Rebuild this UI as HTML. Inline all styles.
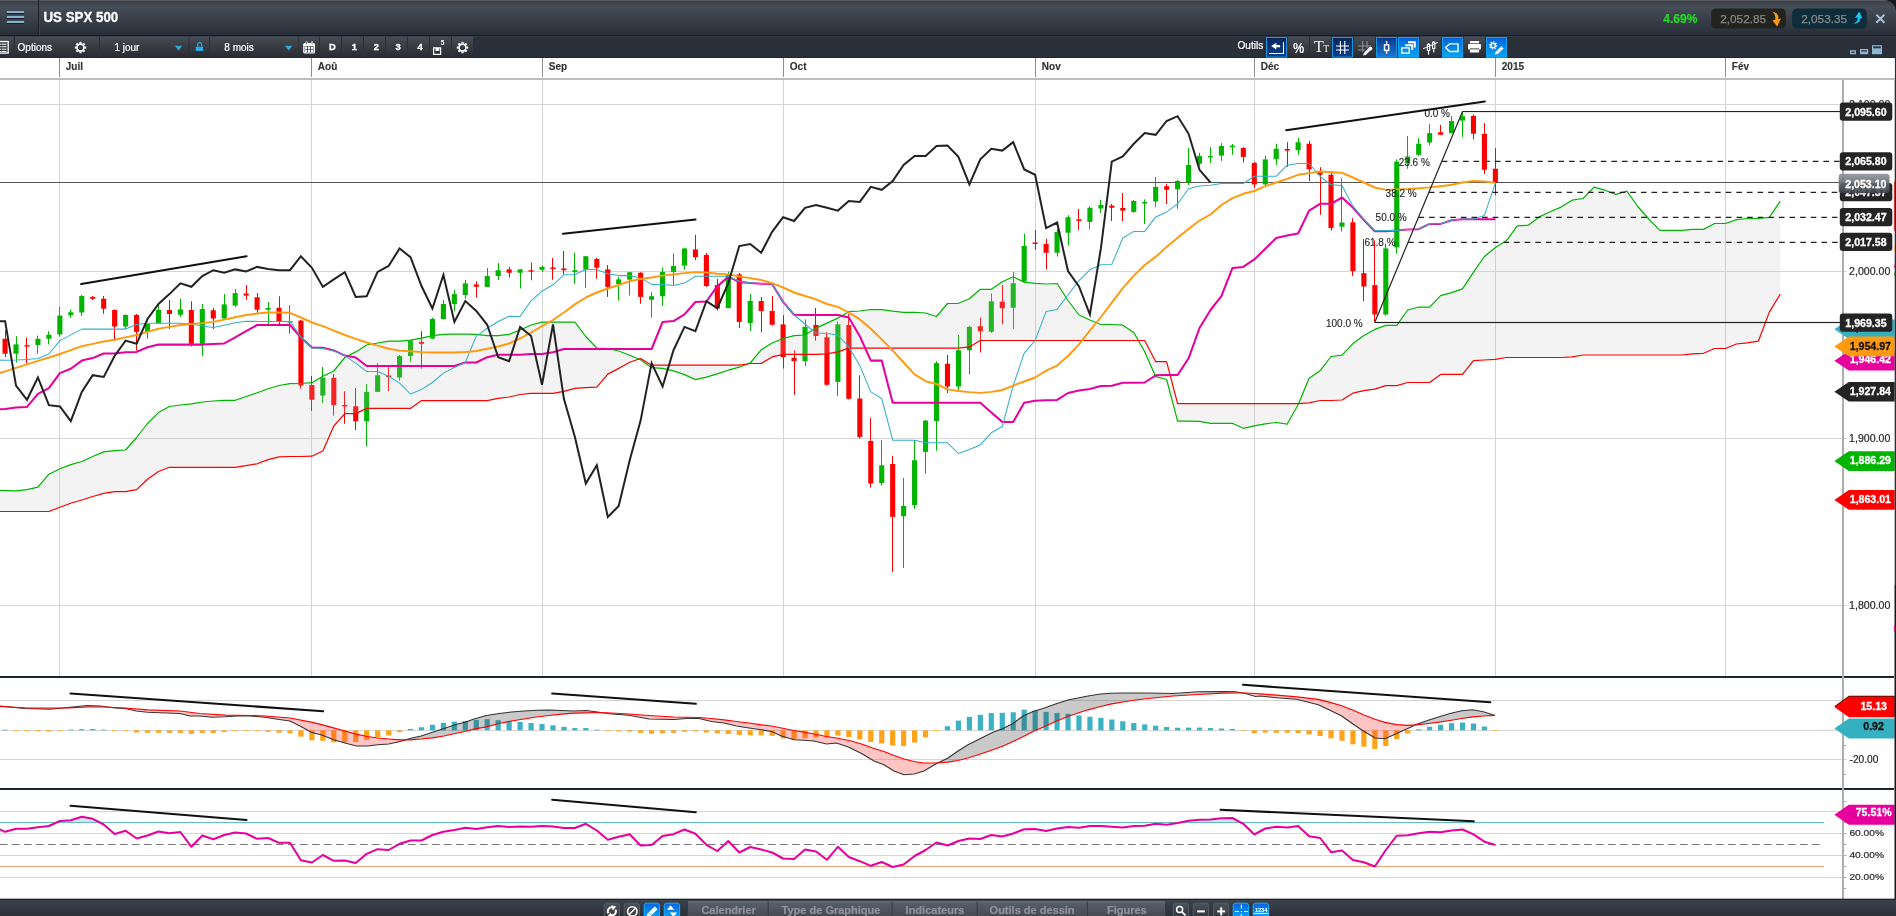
<!DOCTYPE html>
<html><head><meta charset="utf-8"><title>US SPX 500</title>
<style>html,body{margin:0;padding:0;background:#fff;}body{width:1896px;height:916px;overflow:hidden;position:relative;font-family:"Liberation Sans",sans-serif;}</style>
</head><body>
<svg width="1896" height="916" viewBox="0 0 1896 916" style="position:absolute;left:0;top:0;will-change:transform" font-family="Liberation Sans, sans-serif">
<defs>
<linearGradient id="gTitle" x1="0" y1="0" x2="0" y2="1"><stop offset="0" stop-color="#3a3e46"/><stop offset="0.2" stop-color="#464d56"/><stop offset="0.55" stop-color="#383f48"/><stop offset="0.93" stop-color="#2a303a"/><stop offset="1" stop-color="#2a303a"/></linearGradient>
<linearGradient id="gBtn" x1="0" y1="0" x2="0" y2="1"><stop offset="0" stop-color="#464a51"/><stop offset="1" stop-color="#282b31"/></linearGradient>
<linearGradient id="gBtnBlueD" x1="0" y1="0" x2="0" y2="1"><stop offset="0" stop-color="#082458"/><stop offset="1" stop-color="#0d3f8c"/></linearGradient>
<linearGradient id="gBtnBlueM" x1="0" y1="0" x2="0" y2="1"><stop offset="0" stop-color="#0a3488"/><stop offset="1" stop-color="#1a7ad8"/></linearGradient>
<linearGradient id="gBtnBlueL" x1="0" y1="0" x2="0" y2="1"><stop offset="0" stop-color="#0560d8"/><stop offset="1" stop-color="#08a8f6"/></linearGradient>
<linearGradient id="gBot" x1="0" y1="0" x2="0" y2="1"><stop offset="0" stop-color="#3d444e"/><stop offset="1" stop-color="#2a3039"/></linearGradient>
<linearGradient id="gTab" x1="0" y1="0" x2="0" y2="1"><stop offset="0" stop-color="#5a6069"/><stop offset="1" stop-color="#454b54"/></linearGradient>
<linearGradient id="gCur" x1="0" y1="0" x2="0" y2="1"><stop offset="0" stop-color="#8d9399"/><stop offset="1" stop-color="#3c4248"/></linearGradient>
<linearGradient id="gBG" x1="0" y1="0" x2="0" y2="1"><stop offset="0" stop-color="#4d525a"/><stop offset="1" stop-color="#2e3239"/></linearGradient>
<linearGradient id="gBB" x1="0" y1="0" x2="0" y2="1"><stop offset="0" stop-color="#0a64de"/><stop offset="1" stop-color="#08aaf6"/></linearGradient>
<clipPath id="clipMain"><rect x="0" y="79" width="1843" height="597"/></clipPath>
<clipPath id="clipMacd"><rect x="0" y="678" width="1843" height="111"/></clipPath>
<clipPath id="clipRsi"><rect x="0" y="790" width="1843" height="109"/></clipPath>
</defs>
<rect x="59.0" y="80" width="1" height="596" fill="#d4d4d4"/>
<rect x="311.0" y="80" width="1" height="596" fill="#d4d4d4"/>
<rect x="542.0" y="80" width="1" height="596" fill="#d4d4d4"/>
<rect x="783.0" y="80" width="1" height="596" fill="#d4d4d4"/>
<rect x="1035.0" y="80" width="1" height="596" fill="#d4d4d4"/>
<rect x="1254.0" y="80" width="1" height="596" fill="#d4d4d4"/>
<rect x="1495.0" y="80" width="1" height="596" fill="#d4d4d4"/>
<rect x="1725.0" y="80" width="1" height="596" fill="#d4d4d4"/>
<rect x="0" y="104" width="1846.6" height="1" fill="#d6d6d6"/>
<rect x="0" y="271" width="1846.6" height="1" fill="#d6d6d6"/>
<rect x="0" y="438" width="1846.6" height="1" fill="#d6d6d6"/>
<rect x="0" y="605" width="1846.6" height="1" fill="#d6d6d6"/>
<rect x="0" y="182" width="1843" height="1" fill="#555"/>
<g clip-path="url(#clipMain)">
<rect x="5" y="330.00" width="1" height="27.00" fill="#ff0000"/>
<rect x="2.51" y="338.75" width="5.1" height="15.00" fill="#ff0000"/>
<rect x="16" y="336.25" width="1" height="26.25" fill="#00b400"/>
<rect x="13.47" y="344.40" width="5.1" height="9.35" fill="#00b400"/>
<rect x="26" y="337.50" width="1" height="25.50" fill="#ff0000"/>
<rect x="24.43" y="345.20" width="5.1" height="1.40" fill="#ff0000"/>
<rect x="37" y="335.60" width="1" height="18.15" fill="#00b400"/>
<rect x="35.38" y="338.75" width="5.1" height="6.25" fill="#00b400"/>
<rect x="48" y="331.25" width="1" height="13.15" fill="#00b400"/>
<rect x="46.34" y="334.75" width="5.1" height="4.00" fill="#00b400"/>
<rect x="59" y="306.90" width="1" height="29.60" fill="#00b400"/>
<rect x="57.30" y="315.60" width="5.1" height="18.80" fill="#00b400"/>
<rect x="70" y="309.75" width="1" height="8.00" fill="#00b400"/>
<rect x="68.26" y="312.25" width="5.1" height="3.00" fill="#00b400"/>
<rect x="81" y="295.00" width="1" height="21.00" fill="#00b400"/>
<rect x="79.22" y="295.90" width="5.1" height="16.60" fill="#00b400"/>
<rect x="92" y="296.00" width="1" height="4.00" fill="#ff0000"/>
<rect x="90.18" y="296.90" width="5.1" height="1.85" fill="#ff0000"/>
<rect x="103" y="296.00" width="1" height="17.75" fill="#ff0000"/>
<rect x="101.13" y="298.75" width="5.1" height="10.00" fill="#ff0000"/>
<rect x="114" y="309.40" width="1" height="29.60" fill="#ff0000"/>
<rect x="112.09" y="310.00" width="5.1" height="16.50" fill="#ff0000"/>
<rect x="125" y="314.40" width="1" height="15.00" fill="#00b400"/>
<rect x="123.05" y="315.00" width="5.1" height="11.50" fill="#00b400"/>
<rect x="136" y="314.00" width="1" height="36.60" fill="#ff0000"/>
<rect x="134.01" y="315.00" width="5.1" height="16.90" fill="#ff0000"/>
<rect x="147" y="323.75" width="1" height="15.00" fill="#00b400"/>
<rect x="144.97" y="324.00" width="5.1" height="7.90" fill="#00b400"/>
<rect x="158" y="305.00" width="1" height="18.50" fill="#00b400"/>
<rect x="155.93" y="310.00" width="5.1" height="13.00" fill="#00b400"/>
<rect x="169" y="300.00" width="1" height="29.00" fill="#ff0000"/>
<rect x="166.88" y="310.00" width="5.1" height="4.00" fill="#ff0000"/>
<rect x="180" y="298.75" width="1" height="18.15" fill="#00b400"/>
<rect x="177.84" y="309.40" width="5.1" height="5.35" fill="#00b400"/>
<rect x="191" y="301.25" width="1" height="45.25" fill="#ff0000"/>
<rect x="188.80" y="310.00" width="5.1" height="33.75" fill="#ff0000"/>
<rect x="202" y="304.00" width="1" height="52.25" fill="#00b400"/>
<rect x="199.76" y="309.00" width="5.1" height="34.75" fill="#00b400"/>
<rect x="213" y="308.00" width="1" height="21.00" fill="#ff0000"/>
<rect x="210.72" y="310.25" width="5.1" height="8.25" fill="#ff0000"/>
<rect x="224" y="294.00" width="1" height="24.75" fill="#00b400"/>
<rect x="221.68" y="304.40" width="5.1" height="14.10" fill="#00b400"/>
<rect x="235" y="289.00" width="1" height="17.90" fill="#00b400"/>
<rect x="232.63" y="293.10" width="5.1" height="12.50" fill="#00b400"/>
<rect x="246" y="285.25" width="1" height="14.50" fill="#ff0000"/>
<rect x="243.59" y="293.50" width="5.1" height="2.10" fill="#ff0000"/>
<rect x="257" y="293.00" width="1" height="19.75" fill="#ff0000"/>
<rect x="254.55" y="297.25" width="5.1" height="12.50" fill="#ff0000"/>
<rect x="268" y="302.00" width="1" height="23.00" fill="#00b400"/>
<rect x="265.51" y="308.00" width="5.1" height="1.75" fill="#00b400"/>
<rect x="279" y="296.25" width="1" height="28.75" fill="#ff0000"/>
<rect x="276.47" y="307.75" width="5.1" height="13.50" fill="#ff0000"/>
<rect x="289" y="305.00" width="1" height="28.75" fill="#00b400"/>
<rect x="287.43" y="321.25" width="5.1" height="1.40" fill="#00b400"/>
<rect x="300" y="320.00" width="1" height="68.75" fill="#ff0000"/>
<rect x="298.38" y="320.60" width="5.1" height="65.00" fill="#ff0000"/>
<rect x="311" y="376.00" width="1" height="35.00" fill="#ff0000"/>
<rect x="309.34" y="385.00" width="5.1" height="14.75" fill="#ff0000"/>
<rect x="322" y="366.90" width="1" height="36.10" fill="#00b400"/>
<rect x="320.30" y="377.50" width="5.1" height="18.10" fill="#00b400"/>
<rect x="333" y="374.00" width="1" height="41.60" fill="#ff0000"/>
<rect x="331.26" y="377.90" width="5.1" height="27.35" fill="#ff0000"/>
<rect x="344" y="391.25" width="1" height="32.50" fill="#ff0000"/>
<rect x="342.22" y="405.00" width="5.1" height="1.50" fill="#ff0000"/>
<rect x="355" y="388.00" width="1" height="42.00" fill="#ff0000"/>
<rect x="353.18" y="406.25" width="5.1" height="15.00" fill="#ff0000"/>
<rect x="366" y="384.00" width="1" height="62.25" fill="#00b400"/>
<rect x="364.13" y="391.90" width="5.1" height="29.35" fill="#00b400"/>
<rect x="377" y="363.00" width="1" height="29.00" fill="#00b400"/>
<rect x="375.09" y="375.25" width="5.1" height="16.65" fill="#00b400"/>
<rect x="388" y="366.90" width="1" height="24.10" fill="#ff0000"/>
<rect x="386.05" y="375.40" width="5.1" height="1.60" fill="#ff0000"/>
<rect x="399" y="355.00" width="1" height="25.60" fill="#00b400"/>
<rect x="397.01" y="356.00" width="5.1" height="21.50" fill="#00b400"/>
<rect x="410" y="340.00" width="1" height="21.90" fill="#00b400"/>
<rect x="407.97" y="340.60" width="5.1" height="15.40" fill="#00b400"/>
<rect x="421" y="331.25" width="1" height="37.50" fill="#ff0000"/>
<rect x="418.93" y="341.90" width="5.1" height="1.85" fill="#ff0000"/>
<rect x="432" y="317.75" width="1" height="21.25" fill="#00b400"/>
<rect x="429.88" y="319.00" width="5.1" height="19.75" fill="#00b400"/>
<rect x="443" y="300.00" width="1" height="19.40" fill="#00b400"/>
<rect x="440.84" y="304.00" width="5.1" height="15.00" fill="#00b400"/>
<rect x="454" y="290.00" width="1" height="21.25" fill="#00b400"/>
<rect x="451.80" y="294.10" width="5.1" height="9.90" fill="#00b400"/>
<rect x="465" y="280.00" width="1" height="18.75" fill="#00b400"/>
<rect x="462.76" y="283.40" width="5.1" height="11.60" fill="#00b400"/>
<rect x="476" y="281.25" width="1" height="16.00" fill="#ff0000"/>
<rect x="473.72" y="284.40" width="5.1" height="2.40" fill="#ff0000"/>
<rect x="487" y="268.00" width="1" height="19.00" fill="#00b400"/>
<rect x="484.68" y="276.00" width="5.1" height="10.90" fill="#00b400"/>
<rect x="498" y="263.00" width="1" height="17.00" fill="#00b400"/>
<rect x="495.63" y="270.25" width="5.1" height="5.75" fill="#00b400"/>
<rect x="509" y="266.90" width="1" height="10.60" fill="#ff0000"/>
<rect x="506.59" y="269.40" width="5.1" height="3.35" fill="#ff0000"/>
<rect x="520" y="269.00" width="1" height="19.50" fill="#00b400"/>
<rect x="517.55" y="269.40" width="5.1" height="3.35" fill="#00b400"/>
<rect x="531" y="262.50" width="1" height="17.75" fill="#ff0000"/>
<rect x="528.51" y="270.25" width="5.1" height="1.40" fill="#ff0000"/>
<rect x="542" y="265.25" width="1" height="6.65" fill="#00b400"/>
<rect x="539.47" y="266.90" width="5.1" height="2.85" fill="#00b400"/>
<rect x="552" y="257.90" width="1" height="21.85" fill="#ff0000"/>
<rect x="550.42" y="267.50" width="5.1" height="1.50" fill="#ff0000"/>
<rect x="563" y="251.00" width="1" height="23.40" fill="#ff0000"/>
<rect x="561.38" y="268.40" width="5.1" height="1.85" fill="#ff0000"/>
<rect x="574" y="252.75" width="1" height="31.00" fill="#00b400"/>
<rect x="572.34" y="270.25" width="5.1" height="1.65" fill="#00b400"/>
<rect x="585" y="256.00" width="1" height="32.00" fill="#00b400"/>
<rect x="583.30" y="256.25" width="5.1" height="13.50" fill="#00b400"/>
<rect x="596" y="258.00" width="1" height="20.75" fill="#ff0000"/>
<rect x="594.26" y="259.00" width="5.1" height="8.75" fill="#ff0000"/>
<rect x="607" y="265.00" width="1" height="31.90" fill="#ff0000"/>
<rect x="605.22" y="269.40" width="5.1" height="17.50" fill="#ff0000"/>
<rect x="618" y="276.90" width="1" height="23.70" fill="#00b400"/>
<rect x="616.17" y="279.40" width="5.1" height="4.60" fill="#00b400"/>
<rect x="629" y="271.90" width="1" height="23.70" fill="#00b400"/>
<rect x="627.13" y="272.25" width="5.1" height="7.35" fill="#00b400"/>
<rect x="640" y="272.25" width="1" height="31.50" fill="#ff0000"/>
<rect x="638.09" y="272.75" width="5.1" height="24.15" fill="#ff0000"/>
<rect x="651" y="292.25" width="1" height="25.25" fill="#00b400"/>
<rect x="649.05" y="296.25" width="5.1" height="3.50" fill="#00b400"/>
<rect x="662" y="267.50" width="1" height="38.50" fill="#00b400"/>
<rect x="660.01" y="271.90" width="5.1" height="24.35" fill="#00b400"/>
<rect x="673" y="253.50" width="1" height="31.50" fill="#00b400"/>
<rect x="670.97" y="266.00" width="5.1" height="5.90" fill="#00b400"/>
<rect x="684" y="247.75" width="1" height="22.00" fill="#00b400"/>
<rect x="681.92" y="248.50" width="5.1" height="17.10" fill="#00b400"/>
<rect x="695" y="234.75" width="1" height="25.25" fill="#ff0000"/>
<rect x="692.88" y="249.40" width="5.1" height="7.85" fill="#ff0000"/>
<rect x="706" y="253.00" width="1" height="33.90" fill="#ff0000"/>
<rect x="703.84" y="255.00" width="5.1" height="31.00" fill="#ff0000"/>
<rect x="717" y="279.00" width="1" height="31.60" fill="#ff0000"/>
<rect x="714.80" y="285.00" width="5.1" height="23.50" fill="#ff0000"/>
<rect x="728" y="271.50" width="1" height="36.80" fill="#00b400"/>
<rect x="725.76" y="275.00" width="5.1" height="33.00" fill="#00b400"/>
<rect x="739" y="273.00" width="1" height="55.00" fill="#ff0000"/>
<rect x="736.72" y="274.40" width="5.1" height="47.50" fill="#ff0000"/>
<rect x="750" y="294.00" width="1" height="37.00" fill="#00b400"/>
<rect x="747.67" y="301.00" width="5.1" height="22.00" fill="#00b400"/>
<rect x="761" y="297.00" width="1" height="35.50" fill="#ff0000"/>
<rect x="758.63" y="301.00" width="5.1" height="10.00" fill="#ff0000"/>
<rect x="772" y="296.00" width="1" height="29.60" fill="#ff0000"/>
<rect x="769.59" y="311.00" width="5.1" height="13.75" fill="#ff0000"/>
<rect x="783" y="315.25" width="1" height="53.25" fill="#ff0000"/>
<rect x="780.55" y="324.40" width="5.1" height="32.85" fill="#ff0000"/>
<rect x="794" y="350.25" width="1" height="44.50" fill="#ff0000"/>
<rect x="791.51" y="357.75" width="5.1" height="3.50" fill="#ff0000"/>
<rect x="805" y="319.40" width="1" height="46.85" fill="#00b400"/>
<rect x="802.47" y="326.90" width="5.1" height="34.10" fill="#00b400"/>
<rect x="815" y="308.00" width="1" height="32.60" fill="#ff0000"/>
<rect x="813.42" y="325.00" width="5.1" height="11.00" fill="#ff0000"/>
<rect x="826" y="332.30" width="1" height="53.30" fill="#ff0000"/>
<rect x="824.38" y="337.30" width="5.1" height="47.45" fill="#ff0000"/>
<rect x="837" y="321.25" width="1" height="74.75" fill="#00b400"/>
<rect x="835.34" y="324.40" width="5.1" height="57.50" fill="#00b400"/>
<rect x="848" y="313.75" width="1" height="85.65" fill="#ff0000"/>
<rect x="846.30" y="325.00" width="5.1" height="73.75" fill="#ff0000"/>
<rect x="859" y="375.25" width="1" height="63.50" fill="#ff0000"/>
<rect x="857.26" y="398.50" width="5.1" height="38.40" fill="#ff0000"/>
<rect x="870" y="417.75" width="1" height="69.75" fill="#ff0000"/>
<rect x="868.22" y="441.00" width="5.1" height="42.50" fill="#ff0000"/>
<rect x="881" y="440.25" width="1" height="45.35" fill="#00b400"/>
<rect x="879.17" y="465.25" width="5.1" height="17.85" fill="#00b400"/>
<rect x="892" y="456.00" width="1" height="115.90" fill="#ff0000"/>
<rect x="890.13" y="464.00" width="5.1" height="52.90" fill="#ff0000"/>
<rect x="903" y="478.10" width="1" height="89.90" fill="#00b400"/>
<rect x="901.09" y="506.00" width="5.1" height="10.25" fill="#00b400"/>
<rect x="914" y="440.25" width="1" height="68.50" fill="#00b400"/>
<rect x="912.05" y="460.25" width="5.1" height="44.75" fill="#00b400"/>
<rect x="925" y="420.00" width="1" height="53.75" fill="#00b400"/>
<rect x="923.01" y="420.60" width="5.1" height="31.30" fill="#00b400"/>
<rect x="936" y="361.25" width="1" height="89.35" fill="#00b400"/>
<rect x="933.97" y="363.10" width="5.1" height="57.90" fill="#00b400"/>
<rect x="947" y="355.00" width="1" height="38.00" fill="#ff0000"/>
<rect x="944.92" y="363.75" width="5.1" height="22.75" fill="#ff0000"/>
<rect x="958" y="335.00" width="1" height="55.00" fill="#00b400"/>
<rect x="955.88" y="350.25" width="5.1" height="36.25" fill="#00b400"/>
<rect x="969" y="325.60" width="1" height="48.80" fill="#00b400"/>
<rect x="966.84" y="326.90" width="5.1" height="23.35" fill="#00b400"/>
<rect x="980" y="317.50" width="1" height="35.00" fill="#ff0000"/>
<rect x="977.80" y="326.25" width="5.1" height="5.00" fill="#ff0000"/>
<rect x="991" y="293.40" width="1" height="39.35" fill="#00b400"/>
<rect x="988.76" y="301.25" width="5.1" height="30.55" fill="#00b400"/>
<rect x="1002" y="285.00" width="1" height="39.30" fill="#ff0000"/>
<rect x="999.72" y="301.60" width="5.1" height="6.60" fill="#ff0000"/>
<rect x="1013" y="272.20" width="1" height="56.55" fill="#00b400"/>
<rect x="1010.67" y="283.20" width="5.1" height="24.60" fill="#00b400"/>
<rect x="1024" y="233.75" width="1" height="48.15" fill="#00b400"/>
<rect x="1021.63" y="246.00" width="5.1" height="35.50" fill="#00b400"/>
<rect x="1035" y="230.00" width="1" height="19.75" fill="#ff0000"/>
<rect x="1032.59" y="242.50" width="5.1" height="1.50" fill="#ff0000"/>
<rect x="1046" y="238.75" width="1" height="30.65" fill="#ff0000"/>
<rect x="1043.55" y="244.00" width="5.1" height="8.75" fill="#ff0000"/>
<rect x="1057" y="228.75" width="1" height="27.75" fill="#00b400"/>
<rect x="1054.51" y="231.90" width="5.1" height="20.85" fill="#00b400"/>
<rect x="1068" y="215.25" width="1" height="30.35" fill="#00b400"/>
<rect x="1065.47" y="217.25" width="5.1" height="15.50" fill="#00b400"/>
<rect x="1078" y="209.00" width="1" height="21.00" fill="#ff0000"/>
<rect x="1076.42" y="219.40" width="5.1" height="1.60" fill="#ff0000"/>
<rect x="1089" y="206.25" width="1" height="23.15" fill="#00b400"/>
<rect x="1087.38" y="207.75" width="5.1" height="14.15" fill="#00b400"/>
<rect x="1100" y="199.75" width="1" height="13.00" fill="#00b400"/>
<rect x="1098.34" y="205.00" width="5.1" height="3.50" fill="#00b400"/>
<rect x="1111" y="204.00" width="1" height="17.00" fill="#ff0000"/>
<rect x="1109.30" y="205.60" width="5.1" height="2.15" fill="#ff0000"/>
<rect x="1122" y="193.00" width="1" height="28.00" fill="#ff0000"/>
<rect x="1120.26" y="208.00" width="5.1" height="2.60" fill="#ff0000"/>
<rect x="1133" y="200.00" width="1" height="12.75" fill="#00b400"/>
<rect x="1131.21" y="201.00" width="5.1" height="10.90" fill="#00b400"/>
<rect x="1144" y="199.40" width="1" height="24.60" fill="#00b400"/>
<rect x="1142.17" y="201.90" width="5.1" height="1.60" fill="#00b400"/>
<rect x="1155" y="176.90" width="1" height="30.35" fill="#00b400"/>
<rect x="1153.13" y="186.90" width="5.1" height="14.60" fill="#00b400"/>
<rect x="1166" y="183.75" width="1" height="20.25" fill="#ff0000"/>
<rect x="1164.09" y="186.25" width="5.1" height="3.50" fill="#ff0000"/>
<rect x="1177" y="180.00" width="1" height="28.75" fill="#00b400"/>
<rect x="1175.05" y="181.00" width="5.1" height="8.40" fill="#00b400"/>
<rect x="1188" y="148.00" width="1" height="37.00" fill="#00b400"/>
<rect x="1186.01" y="165.00" width="5.1" height="17.25" fill="#00b400"/>
<rect x="1199" y="152.75" width="1" height="13.50" fill="#00b400"/>
<rect x="1196.96" y="156.00" width="5.1" height="7.75" fill="#00b400"/>
<rect x="1210" y="147.25" width="1" height="15.75" fill="#00b400"/>
<rect x="1207.92" y="156.00" width="5.1" height="1.40" fill="#00b400"/>
<rect x="1221" y="143.00" width="1" height="18.00" fill="#00b400"/>
<rect x="1218.88" y="146.00" width="5.1" height="9.60" fill="#00b400"/>
<rect x="1232" y="144.00" width="1" height="10.75" fill="#00b400"/>
<rect x="1229.84" y="145.60" width="5.1" height="1.65" fill="#00b400"/>
<rect x="1243" y="147.00" width="1" height="15.50" fill="#ff0000"/>
<rect x="1240.80" y="148.00" width="5.1" height="8.90" fill="#ff0000"/>
<rect x="1254" y="161.90" width="1" height="26.10" fill="#ff0000"/>
<rect x="1251.76" y="163.00" width="5.1" height="21.40" fill="#ff0000"/>
<rect x="1265" y="155.60" width="1" height="29.40" fill="#00b400"/>
<rect x="1262.71" y="159.40" width="5.1" height="25.00" fill="#00b400"/>
<rect x="1276" y="143.75" width="1" height="21.25" fill="#00b400"/>
<rect x="1273.67" y="148.75" width="5.1" height="10.25" fill="#00b400"/>
<rect x="1287" y="142.25" width="1" height="24.65" fill="#ff0000"/>
<rect x="1284.63" y="149.00" width="5.1" height="1.60" fill="#ff0000"/>
<rect x="1298" y="138.00" width="1" height="16.75" fill="#00b400"/>
<rect x="1295.59" y="142.25" width="5.1" height="8.00" fill="#00b400"/>
<rect x="1309" y="141.00" width="1" height="40.00" fill="#ff0000"/>
<rect x="1306.55" y="143.75" width="5.1" height="25.65" fill="#ff0000"/>
<rect x="1320" y="167.25" width="1" height="47.50" fill="#ff0000"/>
<rect x="1317.51" y="171.25" width="5.1" height="3.50" fill="#ff0000"/>
<rect x="1331" y="171.25" width="1" height="59.35" fill="#ff0000"/>
<rect x="1328.46" y="174.75" width="5.1" height="53.35" fill="#ff0000"/>
<rect x="1341" y="178.30" width="1" height="53.20" fill="#00b400"/>
<rect x="1339.42" y="222.50" width="5.1" height="4.20" fill="#00b400"/>
<rect x="1352" y="218.20" width="1" height="57.80" fill="#ff0000"/>
<rect x="1350.38" y="222.30" width="5.1" height="48.70" fill="#ff0000"/>
<rect x="1363" y="238.90" width="1" height="62.40" fill="#ff0000"/>
<rect x="1361.34" y="273.20" width="5.1" height="13.30" fill="#ff0000"/>
<rect x="1374" y="240.50" width="1" height="81.60" fill="#ff0000"/>
<rect x="1372.30" y="285.10" width="5.1" height="29.40" fill="#ff0000"/>
<rect x="1385" y="243.70" width="1" height="71.90" fill="#00b400"/>
<rect x="1383.26" y="248.40" width="5.1" height="66.10" fill="#00b400"/>
<rect x="1396" y="159.40" width="1" height="94.10" fill="#00b400"/>
<rect x="1394.21" y="161.60" width="5.1" height="85.80" fill="#00b400"/>
<rect x="1407" y="136.00" width="1" height="32.75" fill="#00b400"/>
<rect x="1405.17" y="156.50" width="5.1" height="6.50" fill="#00b400"/>
<rect x="1418" y="138.10" width="1" height="17.90" fill="#00b400"/>
<rect x="1416.13" y="143.75" width="5.1" height="11.00" fill="#00b400"/>
<rect x="1429" y="124.00" width="1" height="21.25" fill="#00b400"/>
<rect x="1427.09" y="133.10" width="5.1" height="9.40" fill="#00b400"/>
<rect x="1440" y="125.00" width="1" height="10.00" fill="#ff0000"/>
<rect x="1438.05" y="132.25" width="5.1" height="2.50" fill="#ff0000"/>
<rect x="1451" y="116.25" width="1" height="17.25" fill="#00b400"/>
<rect x="1449.01" y="121.00" width="5.1" height="12.10" fill="#00b400"/>
<rect x="1462" y="111.25" width="1" height="25.65" fill="#00b400"/>
<rect x="1459.96" y="116.25" width="5.1" height="4.35" fill="#00b400"/>
<rect x="1473" y="114.40" width="1" height="25.00" fill="#ff0000"/>
<rect x="1470.92" y="116.00" width="5.1" height="17.75" fill="#ff0000"/>
<rect x="1484" y="123.10" width="1" height="50.90" fill="#ff0000"/>
<rect x="1481.88" y="134.00" width="5.1" height="35.75" fill="#ff0000"/>
<rect x="1495" y="148.10" width="1" height="46.90" fill="#ff0000"/>
<rect x="1492.84" y="168.75" width="5.1" height="13.75" fill="#ff0000"/>
<polygon points="-5.9,490.2 5.1,490.6 16.0,490.8 27.0,489.6 37.9,487.1 48.9,474.2 59.9,468.8 70.8,464.6 81.8,461.5 92.7,456.5 103.7,451.9 114.6,450.6 125.6,450.0 136.6,437.5 147.5,423.5 158.5,412.6 169.4,406.5 180.4,405.0 191.4,403.9 202.3,402.0 213.3,401.0 224.2,400.3 235.2,400.3 246.1,396.5 257.1,392.7 268.1,388.8 279.0,385.5 290.0,383.6 300.9,383.5 311.9,382.7 322.9,376.3 333.8,371.0 344.8,357.5 355.7,351.9 366.7,345.0 377.6,343.0 388.6,341.2 399.6,341.2 410.5,340.2 421.5,338.1 432.4,335.6 443.4,334.4 454.4,334.2 465.3,334.2 476.3,334.4 487.2,335.6 498.2,335.6 509.1,334.4 520.1,330.0 531.1,325.0 542.0,322.2 553.0,322.2 563.9,322.2 574.9,322.2 585.8,336.5 596.8,348.0 607.8,348.5 618.7,351.0 629.7,355.2 640.6,359.7 651.6,367.7 662.6,368.4 673.5,370.9 684.5,374.6 695.4,379.6 706.4,377.1 717.3,373.9 728.3,370.2 739.3,367.2 750.2,363.0 761.2,349.8 772.1,343.0 783.1,338.5 794.1,335.6 805.0,335.0 816.0,328.1 826.9,323.1 837.9,318.1 848.8,311.7 859.8,311.0 870.8,309.5 881.7,309.6 892.7,311.2 903.6,312.3 914.6,312.4 925.6,313.0 936.5,316.5 947.5,303.5 958.4,303.3 969.4,298.8 980.3,289.3 991.3,289.3 1002.3,281.7 1013.2,276.7 1024.2,282.1 1035.1,283.3 1046.1,284.0 1057.1,283.5 1068.0,300.5 1079.0,315.0 1089.9,320.0 1100.9,324.5 1111.8,324.5 1122.8,325.2 1133.8,332.5 1144.7,351.7 1155.7,376.7 1166.6,379.5 1177.6,421.2 1188.6,421.2 1199.5,421.3 1210.5,423.3 1221.4,423.3 1232.4,423.3 1243.3,428.3 1254.3,425.8 1265.3,423.8 1276.2,422.5 1287.2,424.2 1298.1,404.7 1309.1,378.2 1320.1,370.7 1331.0,356.5 1342.0,355.2 1352.9,343.6 1363.9,335.6 1374.8,329.4 1385.8,325.4 1396.8,325.4 1407.7,310.0 1418.7,307.0 1429.6,307.2 1440.6,295.6 1451.6,292.6 1462.5,288.9 1473.5,272.1 1484.4,256.5 1495.4,247.5 1506.3,240.8 1517.3,225.8 1528.3,225.2 1539.2,216.9 1550.2,211.7 1561.1,207.1 1572.1,200.2 1583.1,198.5 1594.0,187.1 1605.0,190.2 1615.9,194.4 1626.9,191.2 1637.8,206.5 1648.8,219.0 1659.8,230.4 1670.7,230.4 1681.7,230.4 1692.6,229.4 1703.6,229.4 1714.6,223.5 1725.5,223.5 1736.5,219.6 1747.4,218.5 1758.4,218.5 1769.3,217.3 1780.3,201.2 1780.3,294.0 1769.3,312.1 1758.4,341.2 1747.4,342.9 1736.5,344.0 1725.5,348.5 1714.6,348.5 1703.6,353.3 1692.6,353.8 1681.7,355.0 1670.7,355.0 1659.8,355.0 1648.8,355.0 1637.8,355.0 1626.9,355.0 1615.9,355.0 1605.0,355.0 1594.0,355.0 1583.1,355.0 1572.1,356.9 1561.1,357.5 1550.2,357.5 1539.2,357.5 1528.3,357.5 1517.3,357.5 1506.3,357.5 1495.4,359.4 1484.4,360.0 1473.5,360.6 1462.5,374.4 1451.6,374.4 1440.6,374.4 1429.6,382.5 1418.7,382.5 1407.7,382.5 1396.8,385.6 1385.8,385.6 1374.8,389.1 1363.9,390.6 1352.9,393.2 1342.0,400.0 1331.0,400.5 1320.1,400.5 1309.1,402.8 1298.1,403.7 1287.2,403.7 1276.2,403.7 1265.3,403.7 1254.3,403.7 1243.3,403.7 1232.4,403.7 1221.4,403.7 1210.5,403.7 1199.5,403.7 1188.6,403.7 1177.6,403.7 1166.6,361.7 1155.7,361.7 1144.7,340.5 1133.8,340.5 1122.8,340.5 1111.8,340.5 1100.9,340.5 1089.9,340.5 1079.0,340.5 1068.0,340.5 1057.1,340.5 1046.1,340.5 1035.1,340.5 1024.2,340.5 1013.2,340.5 1002.3,340.5 991.3,340.5 980.3,340.5 969.4,346.9 958.4,348.1 947.5,348.1 936.5,348.1 925.6,348.1 914.6,348.1 903.6,348.1 892.7,348.1 881.7,348.1 870.8,348.1 859.8,348.1 848.8,348.1 837.9,351.9 826.9,353.8 816.0,354.4 805.0,354.4 794.1,354.4 783.1,354.4 772.1,356.9 761.2,363.5 750.2,363.5 739.3,365.2 728.3,365.2 717.3,365.2 706.4,365.2 695.4,365.2 684.5,365.2 673.5,365.2 662.6,365.2 651.6,365.2 640.6,358.5 629.7,362.2 618.7,368.4 607.8,374.1 596.8,387.1 585.8,387.7 574.9,388.3 563.9,391.3 553.0,393.3 542.0,393.3 531.1,393.3 520.1,394.5 509.1,397.0 498.2,398.3 487.2,400.6 476.3,400.6 465.3,400.6 454.4,400.6 443.4,400.6 432.4,400.6 421.5,400.6 410.5,408.4 399.6,408.4 388.6,408.4 377.6,408.4 366.7,408.4 355.7,413.6 344.8,413.6 333.8,426.0 322.9,451.0 311.9,456.2 300.9,456.5 290.0,456.5 279.0,456.9 268.1,459.6 257.1,463.8 246.1,465.6 235.2,467.3 224.2,467.3 213.3,467.3 202.3,467.3 191.4,467.3 180.4,467.3 169.4,467.3 158.5,471.5 147.5,479.2 136.6,489.6 125.6,491.7 114.6,491.7 103.7,493.3 92.7,496.5 81.8,500.0 70.8,503.3 59.9,507.3 48.9,511.5 37.9,511.5 27.0,511.5 16.0,511.5 5.1,511.5 -5.9,511.5" fill="rgba(190,190,190,0.19)"/>
<polyline points="-5.9,490.2 5.1,490.6 16.0,490.8 27.0,489.6 37.9,487.1 48.9,474.2 59.9,468.8 70.8,464.6 81.8,461.5 92.7,456.5 103.7,451.9 114.6,450.6 125.6,450.0 136.6,437.5 147.5,423.5 158.5,412.6 169.4,406.5 180.4,405.0 191.4,403.9 202.3,402.0 213.3,401.0 224.2,400.3 235.2,400.3 246.1,396.5 257.1,392.7 268.1,388.8 279.0,385.5 290.0,383.6 300.9,383.5 311.9,382.7 322.9,376.3 333.8,371.0 344.8,357.5 355.7,351.9 366.7,345.0 377.6,343.0 388.6,341.2 399.6,341.2 410.5,340.2 421.5,338.1 432.4,335.6 443.4,334.4 454.4,334.2 465.3,334.2 476.3,334.4 487.2,335.6 498.2,335.6 509.1,334.4 520.1,330.0 531.1,325.0 542.0,322.2 553.0,322.2 563.9,322.2 574.9,322.2 585.8,336.5 596.8,348.0 607.8,348.5 618.7,351.0 629.7,355.2 640.6,359.7 651.6,367.7 662.6,368.4 673.5,370.9 684.5,374.6 695.4,379.6 706.4,377.1 717.3,373.9 728.3,370.2 739.3,367.2 750.2,363.0 761.2,349.8 772.1,343.0 783.1,338.5 794.1,335.6 805.0,335.0 816.0,328.1 826.9,323.1 837.9,318.1 848.8,311.7 859.8,311.0 870.8,309.5 881.7,309.6 892.7,311.2 903.6,312.3 914.6,312.4 925.6,313.0 936.5,316.5 947.5,303.5 958.4,303.3 969.4,298.8 980.3,289.3 991.3,289.3 1002.3,281.7 1013.2,276.7 1024.2,282.1 1035.1,283.3 1046.1,284.0 1057.1,283.5 1068.0,300.5 1079.0,315.0 1089.9,320.0 1100.9,324.5 1111.8,324.5 1122.8,325.2 1133.8,332.5 1144.7,351.7 1155.7,376.7 1166.6,379.5 1177.6,421.2 1188.6,421.2 1199.5,421.3 1210.5,423.3 1221.4,423.3 1232.4,423.3 1243.3,428.3 1254.3,425.8 1265.3,423.8 1276.2,422.5 1287.2,424.2 1298.1,404.7 1309.1,378.2 1320.1,370.7 1331.0,356.5 1342.0,355.2 1352.9,343.6 1363.9,335.6 1374.8,329.4 1385.8,325.4 1396.8,325.4 1407.7,310.0 1418.7,307.0 1429.6,307.2 1440.6,295.6 1451.6,292.6 1462.5,288.9 1473.5,272.1 1484.4,256.5 1495.4,247.5 1506.3,240.8 1517.3,225.8 1528.3,225.2 1539.2,216.9 1550.2,211.7 1561.1,207.1 1572.1,200.2 1583.1,198.5 1594.0,187.1 1605.0,190.2 1615.9,194.4 1626.9,191.2 1637.8,206.5 1648.8,219.0 1659.8,230.4 1670.7,230.4 1681.7,230.4 1692.6,229.4 1703.6,229.4 1714.6,223.5 1725.5,223.5 1736.5,219.6 1747.4,218.5 1758.4,218.5 1769.3,217.3 1780.3,201.2" fill="none" stroke="#00b400" stroke-width="1.2" stroke-linejoin="round"/>
<polyline points="-5.9,511.5 5.1,511.5 16.0,511.5 27.0,511.5 37.9,511.5 48.9,511.5 59.9,507.3 70.8,503.3 81.8,500.0 92.7,496.5 103.7,493.3 114.6,491.7 125.6,491.7 136.6,489.6 147.5,479.2 158.5,471.5 169.4,467.3 180.4,467.3 191.4,467.3 202.3,467.3 213.3,467.3 224.2,467.3 235.2,467.3 246.1,465.6 257.1,463.8 268.1,459.6 279.0,456.9 290.0,456.5 300.9,456.5 311.9,456.2 322.9,451.0 333.8,426.0 344.8,413.6 355.7,413.6 366.7,408.4 377.6,408.4 388.6,408.4 399.6,408.4 410.5,408.4 421.5,400.6 432.4,400.6 443.4,400.6 454.4,400.6 465.3,400.6 476.3,400.6 487.2,400.6 498.2,398.3 509.1,397.0 520.1,394.5 531.1,393.3 542.0,393.3 553.0,393.3 563.9,391.3 574.9,388.3 585.8,387.7 596.8,387.1 607.8,374.1 618.7,368.4 629.7,362.2 640.6,358.5 651.6,365.2 662.6,365.2 673.5,365.2 684.5,365.2 695.4,365.2 706.4,365.2 717.3,365.2 728.3,365.2 739.3,365.2 750.2,363.5 761.2,363.5 772.1,356.9 783.1,354.4 794.1,354.4 805.0,354.4 816.0,354.4 826.9,353.8 837.9,351.9 848.8,348.1 859.8,348.1 870.8,348.1 881.7,348.1 892.7,348.1 903.6,348.1 914.6,348.1 925.6,348.1 936.5,348.1 947.5,348.1 958.4,348.1 969.4,346.9 980.3,340.5 991.3,340.5 1002.3,340.5 1013.2,340.5 1024.2,340.5 1035.1,340.5 1046.1,340.5 1057.1,340.5 1068.0,340.5 1079.0,340.5 1089.9,340.5 1100.9,340.5 1111.8,340.5 1122.8,340.5 1133.8,340.5 1144.7,340.5 1155.7,361.7 1166.6,361.7 1177.6,403.7 1188.6,403.7 1199.5,403.7 1210.5,403.7 1221.4,403.7 1232.4,403.7 1243.3,403.7 1254.3,403.7 1265.3,403.7 1276.2,403.7 1287.2,403.7 1298.1,403.7 1309.1,402.8 1320.1,400.5 1331.0,400.5 1342.0,400.0 1352.9,393.2 1363.9,390.6 1374.8,389.1 1385.8,385.6 1396.8,385.6 1407.7,382.5 1418.7,382.5 1429.6,382.5 1440.6,374.4 1451.6,374.4 1462.5,374.4 1473.5,360.6 1484.4,360.0 1495.4,359.4 1506.3,357.5 1517.3,357.5 1528.3,357.5 1539.2,357.5 1550.2,357.5 1561.1,357.5 1572.1,356.9 1583.1,355.0 1594.0,355.0 1605.0,355.0 1615.9,355.0 1626.9,355.0 1637.8,355.0 1648.8,355.0 1659.8,355.0 1670.7,355.0 1681.7,355.0 1692.6,353.8 1703.6,353.3 1714.6,348.5 1725.5,348.5 1736.5,344.0 1747.4,342.9 1758.4,341.2 1769.3,312.1 1780.3,294.0" fill="none" stroke="#ff0000" stroke-width="1.2" stroke-linejoin="round"/>
<polyline points="-5.9,409.4 5.1,409.0 16.0,407.5 27.0,406.9 37.9,393.8 48.9,388.1 59.9,373.1 70.8,368.8 81.8,360.6 92.7,358.1 103.7,353.5 114.6,353.5 125.6,352.2 136.6,351.9 147.5,347.2 158.5,344.6 169.4,344.6 180.4,344.6 191.4,344.6 202.3,344.6 213.3,344.0 224.2,343.4 235.2,337.3 246.1,331.1 257.1,325.0 268.1,325.0 279.0,325.0 290.0,325.0 300.9,337.5 311.9,347.6 322.9,347.8 333.8,350.4 344.8,355.6 355.7,357.5 366.7,366.0 377.6,366.0 388.6,366.0 399.6,366.0 410.5,366.0 421.5,366.0 432.4,366.0 443.4,366.0 454.4,366.0 465.3,362.5 476.3,362.5 487.2,357.2 498.2,354.7 509.1,354.7 520.1,354.7 531.1,354.0 542.0,354.0 553.0,352.3 563.9,349.0 574.9,349.0 585.8,349.0 596.8,349.0 607.8,349.0 618.7,349.0 629.7,349.0 640.6,349.0 651.6,349.0 662.6,321.9 673.5,321.1 684.5,314.4 695.4,302.0 706.4,301.5 717.3,286.2 728.3,276.9 739.3,281.9 750.2,283.1 761.2,283.8 772.1,284.0 783.1,301.9 794.1,314.8 805.0,315.0 816.0,315.0 826.9,315.0 837.9,315.0 848.8,317.4 859.8,336.2 870.8,360.6 881.7,360.6 892.7,402.8 903.6,402.8 914.6,402.8 925.6,402.8 936.5,402.8 947.5,402.8 958.4,402.8 969.4,402.8 980.3,402.8 991.3,412.5 1002.3,421.9 1013.2,421.9 1024.2,402.8 1035.1,400.7 1046.1,400.3 1057.1,399.9 1068.0,393.0 1079.0,390.4 1089.9,389.0 1100.9,386.0 1111.8,385.7 1122.8,382.7 1133.8,382.7 1144.7,382.5 1155.7,375.3 1166.6,375.0 1177.6,375.0 1188.6,358.3 1199.5,328.0 1210.5,310.0 1221.4,296.2 1232.4,268.1 1243.3,266.9 1254.3,259.4 1265.3,248.8 1276.2,238.1 1287.2,235.6 1298.1,233.5 1309.1,210.6 1320.1,203.8 1331.0,203.8 1342.0,197.5 1352.9,207.5 1363.9,220.0 1374.8,231.2 1385.8,231.2 1396.8,230.6 1407.7,229.6 1418.7,229.2 1429.6,223.9 1440.6,223.9 1451.6,220.2 1462.5,219.2 1473.5,219.2 1484.4,219.2 1495.4,219.2" fill="none" stroke="#e8009c" stroke-width="2.05" stroke-linejoin="round"/>
<polyline points="-5.9,360.0 5.1,360.2 16.0,360.0 27.0,359.4 37.9,358.6 48.9,354.0 59.9,340.6 70.8,334.9 81.8,329.1 92.7,329.1 103.7,329.1 114.6,329.1 125.6,329.1 136.6,324.6 147.5,323.3 158.5,323.3 169.4,323.3 180.4,323.3 191.4,324.0 202.3,326.1 213.3,327.6 224.2,325.2 235.2,322.8 246.1,321.3 257.1,321.4 268.1,321.4 279.0,321.4 290.0,321.5 300.9,336.9 311.9,348.1 322.9,348.5 333.8,350.9 344.8,355.6 355.7,363.1 366.7,371.5 377.6,371.5 388.6,376.2 399.6,383.1 410.5,394.0 421.5,389.4 432.4,382.5 443.4,373.1 454.4,367.5 465.3,362.5 476.3,336.1 487.2,328.3 498.2,321.5 509.1,316.2 520.1,316.4 531.1,300.8 542.0,291.2 553.0,284.8 563.9,274.8 574.9,274.4 585.8,269.4 596.8,269.4 607.8,273.8 618.7,275.6 629.7,275.6 640.6,278.1 651.6,284.4 662.6,284.4 673.5,285.6 684.5,283.1 695.4,276.2 706.4,276.2 717.3,276.2 728.3,276.2 739.3,281.2 750.2,282.8 761.2,283.5 772.1,283.8 783.1,301.9 794.1,315.0 805.0,324.0 816.0,333.1 826.9,333.5 837.9,335.0 848.8,346.9 859.8,365.6 870.8,391.9 881.7,398.5 892.7,440.2 903.6,440.2 914.6,440.2 925.6,442.8 936.5,442.8 947.5,442.8 958.4,453.5 969.4,449.4 980.3,444.8 991.3,432.8 1002.3,426.5 1013.2,385.6 1024.2,353.1 1035.1,340.6 1046.1,311.5 1057.1,309.4 1068.0,295.0 1079.0,280.6 1089.9,269.8 1100.9,264.8 1111.8,264.4 1122.8,238.0 1133.8,231.4 1144.7,231.4 1155.7,216.9 1166.6,211.9 1177.6,203.8 1188.6,188.8 1199.5,186.1 1210.5,185.2 1221.4,183.5 1232.4,183.5 1243.3,183.5 1254.3,176.2 1265.3,176.2 1276.2,176.2 1287.2,165.2 1298.1,163.5 1309.1,163.5 1320.1,176.5 1331.0,184.8 1342.0,185.6 1352.9,206.2 1363.9,219.4 1374.8,230.6 1385.8,230.6 1396.8,230.4 1407.7,229.4 1418.7,229.0 1429.6,223.8 1440.6,223.8 1451.6,220.0 1462.5,219.0 1473.5,219.0 1484.4,215.4 1495.4,182.9" fill="none" stroke="#35b0c8" stroke-width="1.05" stroke-linejoin="round"/>
<polyline points="-5.9,374.6 5.1,371.4 16.0,367.9 27.0,364.4 37.9,360.9 48.9,357.5 59.9,354.0 70.8,350.1 81.8,346.2 92.7,343.9 103.7,341.5 114.6,339.8 125.6,337.4 136.6,335.0 147.5,331.9 158.5,328.8 169.4,326.9 180.4,325.0 191.4,324.0 202.3,323.1 213.3,321.9 224.2,319.6 235.2,317.3 246.1,315.0 257.1,313.5 268.1,312.5 279.0,312.5 290.0,312.8 300.9,317.5 311.9,322.5 322.9,326.2 333.8,330.6 344.8,335.0 355.7,338.8 366.7,342.5 377.6,345.6 388.6,348.8 399.6,350.6 410.5,351.2 421.5,352.1 432.4,352.5 443.4,352.5 454.4,352.5 465.3,352.0 476.3,351.0 487.2,348.8 498.2,346.5 509.1,343.5 520.1,338.5 531.1,332.5 542.0,326.2 553.0,320.0 563.9,312.5 574.9,304.4 585.8,297.5 596.8,292.5 607.8,288.5 618.7,285.0 629.7,281.2 640.6,279.0 651.6,277.5 662.6,275.6 673.5,274.4 684.5,273.1 695.4,272.1 706.4,272.5 717.3,273.8 728.3,274.4 739.3,276.5 750.2,278.1 761.2,280.0 772.1,283.1 783.1,287.5 794.1,292.5 805.0,296.0 816.0,299.4 826.9,304.0 837.9,306.9 848.8,312.5 859.8,319.4 870.8,328.8 881.7,339.4 892.7,350.6 903.6,362.5 914.6,374.4 925.6,381.2 936.5,384.0 947.5,389.4 958.4,391.0 969.4,392.1 980.3,392.9 991.3,391.9 1002.3,390.0 1013.2,385.6 1024.2,381.5 1035.1,377.5 1046.1,370.7 1057.1,365.6 1068.0,356.0 1079.0,344.4 1089.9,330.5 1100.9,317.0 1111.8,302.7 1122.8,288.1 1133.8,275.6 1144.7,265.0 1155.7,256.9 1166.6,246.9 1177.6,237.8 1188.6,229.0 1199.5,220.6 1210.5,214.5 1221.4,205.0 1232.4,198.1 1243.3,193.8 1254.3,191.0 1265.3,186.2 1276.2,182.5 1287.2,178.8 1298.1,174.8 1309.1,173.1 1320.1,171.5 1331.0,172.2 1342.0,172.8 1352.9,177.5 1363.9,182.5 1374.8,187.5 1385.8,189.9 1396.8,189.4 1407.7,189.0 1418.7,188.3 1429.6,187.4 1440.6,186.2 1451.6,184.8 1462.5,182.5 1473.5,181.0 1484.4,181.5 1495.4,182.9" fill="none" stroke="#ff9a10" stroke-width="1.95" stroke-linejoin="round"/>
<polyline points="-5.9,321.2 5.1,321.2 16.0,385.6 27.0,399.8 37.9,377.5 48.9,405.2 59.9,406.5 70.8,421.2 81.8,391.9 92.7,375.2 103.7,377.0 114.6,356.0 125.6,340.6 136.6,343.8 147.5,319.0 158.5,304.0 169.4,294.1 180.4,283.4 191.4,286.8 202.3,276.0 213.3,270.2 224.2,272.8 235.2,269.4 246.1,271.5 257.1,266.9 268.1,269.0 279.0,270.2 290.0,270.2 300.9,256.2 311.9,267.8 322.9,286.9 333.8,279.4 344.8,272.2 355.7,296.9 366.7,296.2 377.6,271.9 388.6,266.0 399.6,248.5 410.5,257.2 421.5,286.0 432.4,308.5 443.4,275.0 454.4,321.9 465.3,301.0 476.3,311.0 487.2,324.8 498.2,357.2 509.1,361.2 520.1,326.9 531.1,336.0 542.0,384.8 553.0,324.4 563.9,398.8 574.9,436.9 585.8,483.5 596.8,465.2 607.8,516.9 618.7,506.0 629.7,460.2 640.6,420.6 651.6,363.1 662.6,386.5 673.5,350.2 684.5,326.9 695.4,331.2 706.4,301.2 717.3,308.2 728.3,283.2 739.3,246.0 750.2,244.0 761.2,252.8 772.1,231.9 783.1,217.2 794.1,221.0 805.0,207.8 816.0,205.0 826.9,207.8 837.9,210.6 848.8,201.0 859.8,201.9 870.8,186.9 881.7,189.8 892.7,181.0 903.6,165.0 914.6,156.0 925.6,156.0 936.5,146.0 947.5,145.6 958.4,156.9 969.4,184.4 980.3,159.4 991.3,148.8 1002.3,150.6 1013.2,142.2 1024.2,169.4 1035.1,174.8 1046.1,228.1 1057.1,222.5 1068.0,271.0 1079.0,286.5 1089.9,314.5 1100.9,248.4 1111.8,161.6 1122.8,156.5 1133.8,143.8 1144.7,133.1 1155.7,134.8 1166.6,121.0 1177.6,116.2 1188.6,133.8 1199.5,169.8 1210.5,182.5" fill="none" stroke="#222" stroke-width="2.0" stroke-linejoin="miter"/>
<line x1="81.2" y1="284.0" x2="246.6" y2="256.2" stroke="#111" stroke-width="2.1" stroke-linecap="round"/>
<line x1="563.1" y1="233.8" x2="695.5" y2="219.5" stroke="#111" stroke-width="2.1" stroke-linecap="round"/>
<line x1="1286.2" y1="130.2" x2="1484.8" y2="101.5" stroke="#111" stroke-width="2.1" stroke-linecap="round"/>
<line x1="1374.8" y1="322.3" x2="1462.5" y2="111.5" stroke="#222" stroke-width="1.2"/>
<rect x="1462.5" y="111.0" width="380.5" height="1.1" fill="#222"/>
<rect x="1374.8" y="321.9" width="468.2" height="1.2" fill="#222"/>
<line x1="1441.8" y1="161.3" x2="1843" y2="161.3" stroke="#222" stroke-width="1.15" stroke-dasharray="5.6,5"/>
<text x="1398.7" y="166.3" font-size="10" fill="#222" stroke="#222" stroke-width="0.12">23.6 %</text>
<line x1="1428.9" y1="192.3" x2="1843" y2="192.3" stroke="#222" stroke-width="1.15" stroke-dasharray="5.6,5"/>
<text x="1385.6" y="197.2" font-size="10" fill="#222" stroke="#222" stroke-width="0.12">38.2 %</text>
<line x1="1418.5" y1="217.3" x2="1843" y2="217.3" stroke="#222" stroke-width="1.15" stroke-dasharray="5.6,5"/>
<text x="1375.6" y="221.2" font-size="10" fill="#222" stroke="#222" stroke-width="0.12">50.0 %</text>
<line x1="1408.1" y1="242.3" x2="1843" y2="242.3" stroke="#222" stroke-width="1.15" stroke-dasharray="5.6,5"/>
<text x="1364.4" y="246.0" font-size="10" fill="#222" stroke="#222" stroke-width="0.12">61.8 %</text>
<text x="1424.4" y="116.6" font-size="10" fill="#222" stroke="#222" stroke-width="0.12">0.0 %</text>
<text x="1326" y="327.3" font-size="10" fill="#222" stroke="#222" stroke-width="0.12">100.0 %</text>
</g>
<rect x="0" y="676" width="1894" height="2" fill="#1d2530"/>
<rect x="0" y="700" width="1846.6" height="1" fill="#d6d6d6"/>
<rect x="0" y="730" width="1846.6" height="1" fill="#d6d6d6"/>
<rect x="0" y="759" width="1846.6" height="1" fill="#d6d6d6"/>
<g clip-path="url(#clipMacd)">
<rect x="2.46" y="729.60" width="5.2" height="0.70" fill="#3ab2c4"/>
<rect x="13.42" y="730.30" width="5.2" height="0.70" fill="#ffa31a"/>
<rect x="24.38" y="730.30" width="5.2" height="0.79" fill="#ffa31a"/>
<rect x="35.33" y="730.30" width="5.2" height="1.01" fill="#ffa31a"/>
<rect x="46.29" y="730.30" width="5.2" height="1.23" fill="#ffa31a"/>
<rect x="57.25" y="730.30" width="5.2" height="0.70" fill="#ffa31a"/>
<rect x="68.21" y="729.60" width="5.2" height="0.70" fill="#3ab2c4"/>
<rect x="79.17" y="729.13" width="5.2" height="1.17" fill="#3ab2c4"/>
<rect x="90.13" y="729.01" width="5.2" height="1.29" fill="#3ab2c4"/>
<rect x="101.08" y="729.60" width="5.2" height="0.70" fill="#3ab2c4"/>
<rect x="112.04" y="730.30" width="5.2" height="0.70" fill="#ffa31a"/>
<rect x="123.00" y="730.30" width="5.2" height="0.70" fill="#ffa31a"/>
<rect x="133.96" y="730.30" width="5.2" height="2.14" fill="#ffa31a"/>
<rect x="144.92" y="730.30" width="5.2" height="2.50" fill="#ffa31a"/>
<rect x="155.88" y="730.30" width="5.2" height="2.50" fill="#ffa31a"/>
<rect x="166.83" y="730.30" width="5.2" height="2.50" fill="#ffa31a"/>
<rect x="177.79" y="730.30" width="5.2" height="2.55" fill="#ffa31a"/>
<rect x="188.75" y="730.30" width="5.2" height="3.58" fill="#ffa31a"/>
<rect x="199.71" y="730.30" width="5.2" height="2.57" fill="#ffa31a"/>
<rect x="210.67" y="730.30" width="5.2" height="2.79" fill="#ffa31a"/>
<rect x="221.63" y="730.30" width="5.2" height="1.59" fill="#ffa31a"/>
<rect x="232.58" y="730.30" width="5.2" height="0.79" fill="#ffa31a"/>
<rect x="243.54" y="730.30" width="5.2" height="0.70" fill="#ffa31a"/>
<rect x="254.50" y="730.30" width="5.2" height="0.86" fill="#ffa31a"/>
<rect x="265.46" y="730.30" width="5.2" height="1.49" fill="#ffa31a"/>
<rect x="276.42" y="730.30" width="5.2" height="2.34" fill="#ffa31a"/>
<rect x="287.38" y="730.30" width="5.2" height="3.00" fill="#ffa31a"/>
<rect x="298.33" y="730.30" width="5.2" height="6.33" fill="#ffa31a"/>
<rect x="309.29" y="730.30" width="5.2" height="10.03" fill="#ffa31a"/>
<rect x="320.25" y="730.30" width="5.2" height="10.55" fill="#ffa31a"/>
<rect x="331.21" y="730.30" width="5.2" height="12.00" fill="#ffa31a"/>
<rect x="342.17" y="730.30" width="5.2" height="12.00" fill="#ffa31a"/>
<rect x="353.13" y="730.30" width="5.2" height="11.76" fill="#ffa31a"/>
<rect x="364.08" y="730.30" width="5.2" height="9.66" fill="#ffa31a"/>
<rect x="375.04" y="730.30" width="5.2" height="6.73" fill="#ffa31a"/>
<rect x="386.00" y="730.30" width="5.2" height="5.02" fill="#ffa31a"/>
<rect x="396.96" y="730.30" width="5.2" height="1.88" fill="#ffa31a"/>
<rect x="407.92" y="728.97" width="5.2" height="1.33" fill="#3ab2c4"/>
<rect x="418.88" y="727.25" width="5.2" height="3.05" fill="#3ab2c4"/>
<rect x="429.83" y="724.81" width="5.2" height="5.49" fill="#3ab2c4"/>
<rect x="440.79" y="722.86" width="5.2" height="7.44" fill="#3ab2c4"/>
<rect x="451.75" y="721.62" width="5.2" height="8.68" fill="#3ab2c4"/>
<rect x="462.71" y="721.02" width="5.2" height="9.28" fill="#3ab2c4"/>
<rect x="473.67" y="719.87" width="5.2" height="10.43" fill="#3ab2c4"/>
<rect x="484.63" y="719.12" width="5.2" height="11.18" fill="#3ab2c4"/>
<rect x="495.58" y="720.22" width="5.2" height="10.08" fill="#3ab2c4"/>
<rect x="506.54" y="721.11" width="5.2" height="9.19" fill="#3ab2c4"/>
<rect x="517.50" y="721.99" width="5.2" height="8.31" fill="#3ab2c4"/>
<rect x="528.46" y="723.01" width="5.2" height="7.29" fill="#3ab2c4"/>
<rect x="539.42" y="724.10" width="5.2" height="6.20" fill="#3ab2c4"/>
<rect x="550.37" y="725.36" width="5.2" height="4.94" fill="#3ab2c4"/>
<rect x="561.33" y="726.84" width="5.2" height="3.46" fill="#3ab2c4"/>
<rect x="572.29" y="728.05" width="5.2" height="2.25" fill="#3ab2c4"/>
<rect x="583.25" y="728.05" width="5.2" height="2.25" fill="#3ab2c4"/>
<rect x="594.21" y="729.60" width="5.2" height="0.70" fill="#3ab2c4"/>
<rect x="605.17" y="730.30" width="5.2" height="0.70" fill="#ffa31a"/>
<rect x="616.12" y="730.30" width="5.2" height="1.10" fill="#ffa31a"/>
<rect x="627.08" y="730.30" width="5.2" height="1.33" fill="#ffa31a"/>
<rect x="638.04" y="730.30" width="5.2" height="2.56" fill="#ffa31a"/>
<rect x="649.00" y="730.30" width="5.2" height="3.40" fill="#ffa31a"/>
<rect x="659.96" y="730.30" width="5.2" height="2.96" fill="#ffa31a"/>
<rect x="670.92" y="730.30" width="5.2" height="2.52" fill="#ffa31a"/>
<rect x="681.87" y="730.30" width="5.2" height="1.45" fill="#ffa31a"/>
<rect x="692.83" y="730.30" width="5.2" height="1.07" fill="#ffa31a"/>
<rect x="703.79" y="730.30" width="5.2" height="2.18" fill="#ffa31a"/>
<rect x="714.75" y="730.30" width="5.2" height="3.12" fill="#ffa31a"/>
<rect x="725.71" y="730.30" width="5.2" height="3.68" fill="#ffa31a"/>
<rect x="736.67" y="730.30" width="5.2" height="4.61" fill="#ffa31a"/>
<rect x="747.62" y="730.30" width="5.2" height="5.00" fill="#ffa31a"/>
<rect x="758.58" y="730.30" width="5.2" height="5.00" fill="#ffa31a"/>
<rect x="769.54" y="730.30" width="5.2" height="5.66" fill="#ffa31a"/>
<rect x="780.50" y="730.30" width="5.2" height="8.16" fill="#ffa31a"/>
<rect x="791.46" y="730.30" width="5.2" height="9.24" fill="#ffa31a"/>
<rect x="802.42" y="730.30" width="5.2" height="7.90" fill="#ffa31a"/>
<rect x="813.37" y="730.30" width="5.2" height="7.08" fill="#ffa31a"/>
<rect x="824.33" y="730.30" width="5.2" height="7.39" fill="#ffa31a"/>
<rect x="835.29" y="730.30" width="5.2" height="5.19" fill="#ffa31a"/>
<rect x="846.25" y="730.30" width="5.2" height="6.73" fill="#ffa31a"/>
<rect x="857.21" y="730.30" width="5.2" height="9.13" fill="#ffa31a"/>
<rect x="868.17" y="730.30" width="5.2" height="11.72" fill="#ffa31a"/>
<rect x="879.12" y="730.30" width="5.2" height="13.08" fill="#ffa31a"/>
<rect x="890.08" y="730.30" width="5.2" height="15.20" fill="#ffa31a"/>
<rect x="901.04" y="730.30" width="5.2" height="15.74" fill="#ffa31a"/>
<rect x="912.00" y="730.30" width="5.2" height="12.23" fill="#ffa31a"/>
<rect x="922.96" y="730.30" width="5.2" height="7.07" fill="#ffa31a"/>
<rect x="933.92" y="730.30" width="5.2" height="0.70" fill="#ffa31a"/>
<rect x="944.87" y="726.27" width="5.2" height="4.03" fill="#3ab2c4"/>
<rect x="955.83" y="720.64" width="5.2" height="9.66" fill="#3ab2c4"/>
<rect x="966.79" y="716.80" width="5.2" height="13.50" fill="#3ab2c4"/>
<rect x="977.75" y="714.83" width="5.2" height="15.47" fill="#3ab2c4"/>
<rect x="988.71" y="713.07" width="5.2" height="17.23" fill="#3ab2c4"/>
<rect x="999.67" y="712.80" width="5.2" height="17.50" fill="#3ab2c4"/>
<rect x="1010.62" y="712.24" width="5.2" height="18.06" fill="#3ab2c4"/>
<rect x="1021.58" y="709.64" width="5.2" height="20.66" fill="#3ab2c4"/>
<rect x="1032.54" y="710.57" width="5.2" height="19.73" fill="#3ab2c4"/>
<rect x="1043.50" y="711.86" width="5.2" height="18.44" fill="#3ab2c4"/>
<rect x="1054.46" y="712.92" width="5.2" height="17.38" fill="#3ab2c4"/>
<rect x="1065.42" y="713.80" width="5.2" height="16.50" fill="#3ab2c4"/>
<rect x="1076.37" y="715.42" width="5.2" height="14.88" fill="#3ab2c4"/>
<rect x="1087.33" y="716.74" width="5.2" height="13.56" fill="#3ab2c4"/>
<rect x="1098.29" y="717.86" width="5.2" height="12.44" fill="#3ab2c4"/>
<rect x="1109.25" y="719.52" width="5.2" height="10.78" fill="#3ab2c4"/>
<rect x="1120.21" y="721.27" width="5.2" height="9.03" fill="#3ab2c4"/>
<rect x="1131.16" y="723.02" width="5.2" height="7.28" fill="#3ab2c4"/>
<rect x="1142.12" y="724.41" width="5.2" height="5.89" fill="#3ab2c4"/>
<rect x="1153.08" y="725.72" width="5.2" height="4.58" fill="#3ab2c4"/>
<rect x="1164.04" y="727.04" width="5.2" height="3.26" fill="#3ab2c4"/>
<rect x="1175.00" y="727.75" width="5.2" height="2.55" fill="#3ab2c4"/>
<rect x="1185.96" y="727.64" width="5.2" height="2.66" fill="#3ab2c4"/>
<rect x="1196.91" y="727.61" width="5.2" height="2.69" fill="#3ab2c4"/>
<rect x="1207.87" y="728.05" width="5.2" height="2.25" fill="#3ab2c4"/>
<rect x="1218.83" y="728.49" width="5.2" height="1.81" fill="#3ab2c4"/>
<rect x="1229.79" y="728.93" width="5.2" height="1.37" fill="#3ab2c4"/>
<rect x="1240.75" y="730.30" width="5.2" height="0.70" fill="#ffa31a"/>
<rect x="1251.71" y="730.30" width="5.2" height="2.70" fill="#ffa31a"/>
<rect x="1262.66" y="730.30" width="5.2" height="2.27" fill="#ffa31a"/>
<rect x="1273.62" y="730.30" width="5.2" height="2.49" fill="#ffa31a"/>
<rect x="1284.58" y="730.30" width="5.2" height="2.50" fill="#ffa31a"/>
<rect x="1295.54" y="730.30" width="5.2" height="2.69" fill="#ffa31a"/>
<rect x="1306.50" y="730.30" width="5.2" height="4.13" fill="#ffa31a"/>
<rect x="1317.46" y="730.30" width="5.2" height="5.70" fill="#ffa31a"/>
<rect x="1328.41" y="730.30" width="5.2" height="8.05" fill="#ffa31a"/>
<rect x="1339.37" y="730.30" width="5.2" height="10.43" fill="#ffa31a"/>
<rect x="1350.33" y="730.30" width="5.2" height="14.03" fill="#ffa31a"/>
<rect x="1361.29" y="730.30" width="5.2" height="16.44" fill="#ffa31a"/>
<rect x="1372.25" y="730.30" width="5.2" height="18.64" fill="#ffa31a"/>
<rect x="1383.21" y="730.30" width="5.2" height="15.82" fill="#ffa31a"/>
<rect x="1394.16" y="730.30" width="5.2" height="8.78" fill="#ffa31a"/>
<rect x="1405.12" y="730.30" width="5.2" height="3.23" fill="#ffa31a"/>
<rect x="1416.08" y="729.31" width="5.2" height="0.99" fill="#3ab2c4"/>
<rect x="1427.04" y="726.73" width="5.2" height="3.57" fill="#3ab2c4"/>
<rect x="1438.00" y="724.75" width="5.2" height="5.55" fill="#3ab2c4"/>
<rect x="1448.96" y="723.19" width="5.2" height="7.11" fill="#3ab2c4"/>
<rect x="1459.91" y="722.53" width="5.2" height="7.77" fill="#3ab2c4"/>
<rect x="1470.87" y="723.55" width="5.2" height="6.75" fill="#3ab2c4"/>
<rect x="1481.83" y="726.54" width="5.2" height="3.76" fill="#3ab2c4"/>
<rect x="1492.79" y="730.30" width="5.2" height="0.70" fill="#ffa31a"/>
<polygon points="0.0,706.0 3.7,706.4 7.5,706.7 11.2,707.1 11.2,707.1 7.5,706.9 3.7,706.7 0.0,706.5" fill="rgba(60,60,60,0.28)"/>
<polygon points="11.2,707.1 14.9,707.5 18.7,707.9 22.4,708.2 26.2,708.5 29.9,708.6 33.6,708.8 37.4,708.9 41.1,709.0 44.9,709.1 48.6,709.2 52.3,709.0 56.1,708.6 59.8,708.3 63.5,707.9 67.3,707.5 67.3,707.8 63.5,707.8 59.8,707.9 56.1,707.9 52.3,708.0 48.6,708.0 44.9,707.9 41.1,707.9 37.4,707.9 33.6,707.8 29.9,707.8 26.2,707.8 22.4,707.6 18.7,707.4 14.9,707.2 11.2,707.1" fill="rgba(255,60,60,0.30)"/>
<polygon points="67.3,707.5 71.0,707.1 74.8,706.8 78.5,706.4 82.2,706.0 86.0,705.7 89.7,705.6 93.4,705.7 97.2,705.9 100.9,706.1 104.7,706.6 108.4,707.1 112.1,707.6 112.1,707.4 108.4,707.2 104.7,707.0 100.9,707.0 97.2,707.0 93.4,707.0 89.7,707.0 86.0,707.1 82.2,707.2 78.5,707.4 74.8,707.5 71.0,707.7 67.3,707.8" fill="rgba(60,60,60,0.28)"/>
<polygon points="112.1,707.6 115.9,708.0 119.6,708.2 123.3,708.4 127.1,709.0 130.8,709.8 134.6,710.6 138.3,711.2 142.0,711.6 145.8,712.1 149.5,712.3 153.2,712.5 157.0,712.6 160.7,712.8 164.4,712.9 168.2,713.0 171.9,713.2 175.7,713.3 179.4,713.5 183.1,714.3 186.9,715.2 190.6,716.0 194.3,716.0 198.1,716.0 201.8,716.2 205.6,716.6 209.3,716.9 213.0,717.2 216.8,717.1 220.5,716.9 224.2,716.8 228.0,716.6 231.7,716.3 235.5,716.1 239.2,716.0 242.9,716.0 246.7,716.0 250.4,716.0 254.2,716.3 257.9,716.7 261.6,717.0 265.4,717.3 269.1,717.9 272.8,718.5 276.6,719.1 280.3,719.6 284.1,720.2 287.8,720.7 291.5,721.8 295.3,723.6 299.0,725.5 302.7,727.5 306.5,729.6 310.2,731.7 313.9,733.0 317.7,734.0 321.4,735.0 325.2,736.3 328.9,737.9 332.6,739.4 336.4,740.6 340.1,741.6 343.9,742.7 347.6,743.7 351.3,744.7 355.1,745.7 358.8,746.0 362.5,746.0 366.3,746.0 370.0,745.7 373.8,745.2 377.5,744.8 381.2,744.5 385.0,744.3 388.7,744.0 392.4,743.2 396.2,742.4 399.9,741.5 403.6,740.4 407.4,739.3 407.4,739.8 403.6,739.8 399.9,739.7 396.2,739.5 392.4,739.2 388.7,739.0 385.0,738.7 381.2,738.3 377.5,738.0 373.8,737.4 370.0,736.9 366.3,736.3 362.5,735.5 358.8,734.8 355.1,733.9 351.3,732.8 347.6,731.7 343.9,730.7 340.1,729.6 336.4,728.6 332.6,727.5 328.9,726.5 325.2,725.5 321.4,724.5 317.7,723.7 313.9,722.9 310.2,722.0 306.5,721.3 302.7,720.5 299.0,719.8 295.3,719.1 291.5,718.3 287.8,717.8 284.1,717.5 280.3,717.2 276.6,716.9 272.8,716.6 269.1,716.3 265.4,716.0 261.6,715.9 257.9,715.8 254.2,715.6 250.4,715.5 246.7,715.5 242.9,715.4 239.2,715.4 235.5,715.4 231.7,715.3 228.0,715.3 224.2,715.2 220.5,714.9 216.8,714.7 213.0,714.4 209.3,714.2 205.6,713.9 201.8,713.6 198.1,713.3 194.3,712.8 190.6,712.3 186.9,711.9 183.1,711.4 179.4,711.0 175.7,710.8 171.9,710.7 168.2,710.5 164.4,710.4 160.7,710.3 157.0,710.1 153.2,710.0 149.5,709.8 145.8,709.6 142.0,709.3 138.3,709.0 134.6,708.7 130.8,708.5 127.1,708.2 123.3,707.9 119.6,707.7 115.9,707.5 112.1,707.4" fill="rgba(255,60,60,0.30)"/>
<polygon points="407.4,739.3 411.1,738.2 414.9,737.4 418.6,736.6 422.3,735.6 426.1,734.4 429.8,733.1 433.6,731.9 437.3,730.7 441.0,729.4 444.8,728.2 448.5,726.9 452.2,725.7 456.0,724.5 459.7,723.6 463.4,722.6 467.2,721.5 470.9,720.1 474.7,718.8 478.4,717.8 482.1,716.7 485.9,715.7 489.6,715.0 493.4,714.4 497.1,713.8 500.8,713.3 504.6,712.8 508.3,712.4 512.0,712.0 515.8,711.7 519.5,711.4 523.2,711.1 527.0,710.8 530.7,710.6 534.5,710.4 538.2,710.2 541.9,710.1 545.7,710.1 549.4,710.0 553.1,710.2 556.9,710.3 560.6,710.5 564.4,710.6 568.1,710.8 571.8,710.9 575.6,710.9 579.3,710.8 583.0,710.6 586.8,710.5 590.5,711.1 594.3,711.6 598.0,712.1 601.7,712.6 601.7,712.6 598.0,712.5 594.3,712.6 590.5,712.7 586.8,712.7 583.0,712.9 579.3,713.0 575.6,713.2 571.8,713.4 568.1,713.7 564.4,714.0 560.6,714.3 556.9,714.7 553.1,715.1 549.4,715.5 545.7,715.9 541.9,716.3 538.2,716.8 534.5,717.3 530.7,717.9 527.0,718.5 523.2,719.1 519.5,719.7 515.8,720.3 512.0,720.9 508.3,721.6 504.6,722.4 500.8,723.1 497.1,724.0 493.4,725.0 489.6,725.9 485.9,726.9 482.1,727.6 478.4,728.4 474.7,729.1 470.9,730.0 467.2,731.0 463.4,731.8 459.7,732.6 456.0,733.3 452.2,734.1 448.5,734.9 444.8,735.8 441.0,736.4 437.3,737.0 433.6,737.6 429.8,738.0 426.1,738.5 422.3,738.9 418.6,739.2 414.9,739.4 411.1,739.7 407.4,739.8" fill="rgba(60,60,60,0.28)"/>
<polygon points="601.7,712.6 605.5,713.2 609.2,713.7 613.0,714.1 616.7,714.4 620.4,714.6 624.2,714.9 627.9,715.2 631.6,715.7 635.4,716.4 639.1,717.1 642.9,717.8 646.6,718.5 650.3,719.0 654.1,719.1 657.8,719.2 661.5,719.3 665.3,719.3 669.0,719.4 672.8,719.5 676.5,719.3 680.2,719.0 684.0,718.7 687.7,718.5 691.4,718.5 695.2,718.5 698.9,718.5 702.6,719.4 706.4,720.3 710.1,721.2 713.9,721.8 717.6,722.2 721.3,722.7 725.1,723.3 728.8,724.2 732.5,725.1 736.3,725.9 740.0,726.6 743.8,727.2 747.5,727.8 751.2,728.3 755.0,728.8 758.7,729.4 762.5,729.9 766.2,730.6 769.9,731.2 773.7,732.5 777.4,734.2 781.1,735.8 784.9,737.0 788.6,738.1 792.4,739.3 796.1,739.9 799.8,740.0 803.6,740.2 807.3,740.5 811.0,740.8 814.8,741.2 818.5,742.1 822.2,743.0 826.0,743.9 829.7,743.7 833.5,743.3 837.2,743.2 840.9,744.5 844.7,745.8 848.4,747.1 852.1,748.8 855.9,750.7 859.6,752.6 863.4,754.6 867.1,756.9 870.8,759.1 874.6,761.2 878.3,762.6 882.0,764.0 885.8,765.9 889.5,768.2 893.3,770.5 897.0,772.1 900.7,773.5 904.5,774.7 908.2,774.4 912.0,774.2 915.7,773.5 919.4,772.4 923.2,771.3 926.9,769.3 930.6,767.0 934.4,764.8 938.1,762.7 938.1,762.9 934.4,763.0 930.6,763.0 926.9,763.0 923.2,762.9 919.4,762.3 915.7,761.8 912.0,761.0 908.2,760.1 904.5,759.1 900.7,757.9 897.0,756.5 893.3,755.2 889.5,753.7 885.8,752.2 882.0,750.9 878.3,749.8 874.6,748.7 870.8,747.4 867.1,746.0 863.4,744.7 859.6,743.5 855.9,742.4 852.1,741.4 848.4,740.4 844.7,739.6 840.9,738.9 837.2,738.1 833.5,737.5 829.7,737.0 826.0,736.4 822.2,735.6 818.5,734.9 814.8,734.2 811.0,733.5 807.3,732.8 803.6,732.2 799.8,731.5 796.1,730.9 792.4,730.2 788.6,729.4 784.9,728.7 781.1,727.9 777.4,727.2 773.7,726.4 769.9,725.8 766.2,725.3 762.5,724.9 758.7,724.4 755.0,723.8 751.2,723.3 747.5,722.8 743.8,722.4 740.0,721.9 736.3,721.5 732.5,720.9 728.8,720.4 725.1,719.9 721.3,719.5 717.6,719.1 713.9,718.7 710.1,718.4 706.4,718.1 702.6,717.8 698.9,717.5 695.2,717.4 691.4,717.3 687.7,717.3 684.0,717.2 680.2,717.1 676.5,717.0 672.8,716.9 669.0,716.7 665.3,716.5 661.5,716.3 657.8,716.0 654.1,715.8 650.3,715.6 646.6,715.3 642.9,715.0 639.1,714.8 635.4,714.5 631.6,714.2 627.9,713.9 624.2,713.7 620.4,713.5 616.7,713.3 613.0,713.1 609.2,712.9 605.5,712.8 601.7,712.6" fill="rgba(255,60,60,0.30)"/>
<polygon points="938.1,762.7 941.9,760.9 945.6,759.2 949.3,757.1 953.1,754.5 956.8,751.8 960.5,749.4 964.3,747.1 968.0,744.7 971.8,742.9 975.5,741.0 979.2,739.1 983.0,737.3 986.7,735.4 990.4,733.5 994.2,731.8 997.9,730.4 1001.6,729.0 1005.4,727.3 1009.1,725.4 1012.9,723.6 1016.6,720.8 1020.3,718.0 1024.1,715.5 1027.8,713.8 1031.5,712.2 1035.3,710.8 1039.0,709.7 1042.8,708.6 1046.5,707.2 1050.2,705.9 1054.0,704.5 1057.7,703.3 1061.5,702.1 1065.2,700.9 1068.9,699.8 1072.7,699.1 1076.4,698.3 1080.1,697.6 1083.9,696.8 1087.6,696.1 1091.3,695.5 1095.1,694.9 1098.8,694.3 1102.6,693.8 1106.3,693.6 1110.0,693.3 1113.8,693.2 1117.5,693.1 1121.2,693.0 1125.0,693.0 1128.7,693.0 1132.5,693.0 1136.2,693.0 1139.9,693.0 1143.7,693.0 1147.4,693.0 1151.2,693.1 1154.9,693.1 1158.6,693.2 1162.4,693.3 1166.1,693.4 1169.8,693.4 1173.6,693.5 1177.3,693.2 1181.0,692.9 1184.8,692.7 1188.5,692.4 1192.3,692.2 1196.0,691.9 1199.7,691.7 1203.5,691.7 1207.2,691.7 1211.0,691.6 1214.7,691.6 1218.4,691.5 1222.2,691.5 1225.9,691.6 1229.6,691.6 1233.4,691.7 1237.1,692.0 1240.8,692.7 1244.6,693.3 1244.6,693.0 1240.8,693.0 1237.1,693.0 1233.4,693.0 1229.6,693.1 1225.9,693.2 1222.2,693.3 1218.4,693.5 1214.7,693.7 1211.0,693.9 1207.2,694.0 1203.5,694.2 1199.7,694.4 1196.0,694.6 1192.3,694.8 1188.5,695.1 1184.8,695.3 1181.0,695.5 1177.3,695.7 1173.6,696.0 1169.8,696.3 1166.1,696.7 1162.4,697.1 1158.6,697.4 1154.9,697.8 1151.2,698.2 1147.4,698.6 1143.7,699.0 1139.9,699.5 1136.2,699.9 1132.5,700.5 1128.7,701.1 1125.0,701.7 1121.2,702.3 1117.5,703.0 1113.8,703.7 1110.0,704.4 1106.3,705.2 1102.6,706.0 1098.8,706.9 1095.1,707.9 1091.3,708.9 1087.6,709.9 1083.9,711.1 1080.1,712.3 1076.4,713.6 1072.7,714.9 1068.9,716.2 1065.2,717.6 1061.5,719.1 1057.7,720.6 1054.0,722.2 1050.2,723.9 1046.5,725.6 1042.8,727.4 1039.0,728.9 1035.3,730.5 1031.5,732.3 1027.8,734.2 1024.1,736.2 1020.3,738.0 1016.6,739.8 1012.9,741.6 1009.1,743.2 1005.4,744.9 1001.6,746.5 997.9,747.9 994.2,749.3 990.4,750.6 986.7,751.9 983.0,753.2 979.2,754.4 975.5,755.6 971.8,756.8 968.0,758.0 964.3,758.9 960.5,759.9 956.8,760.7 953.1,761.4 949.3,762.0 945.6,762.4 941.9,762.7 938.1,762.9" fill="rgba(60,60,60,0.28)"/>
<polygon points="1244.6,693.3 1248.3,694.3 1252.1,695.5 1255.8,696.5 1259.5,696.1 1263.3,696.3 1267.0,696.7 1270.8,697.1 1274.5,697.4 1278.2,697.8 1282.0,698.1 1285.7,698.4 1289.4,698.7 1293.2,699.0 1296.9,699.4 1300.7,700.3 1304.4,701.2 1308.1,702.2 1311.9,703.1 1315.6,704.0 1319.3,705.1 1323.1,706.9 1326.8,708.7 1330.5,710.4 1334.3,712.3 1338.0,714.2 1341.8,716.1 1345.5,718.7 1349.2,721.4 1353.0,724.1 1356.7,726.6 1360.5,729.1 1364.2,731.5 1367.9,733.8 1371.7,736.0 1375.4,738.0 1379.1,738.3 1382.9,738.5 1386.6,738.0 1390.3,736.3 1394.1,734.6 1397.8,733.0 1401.6,731.3 1405.3,729.6 1409.0,727.9 1412.8,726.1 1416.5,724.4 1416.5,724.8 1412.8,725.0 1409.0,725.2 1405.3,725.2 1401.6,725.0 1397.8,724.7 1394.1,724.2 1390.3,723.4 1386.6,722.7 1382.9,721.7 1379.1,720.6 1375.4,719.5 1371.7,718.0 1367.9,716.5 1364.2,715.0 1360.5,713.4 1356.7,711.7 1353.0,710.0 1349.2,708.6 1345.5,707.1 1341.8,705.7 1338.0,704.6 1334.3,703.6 1330.5,702.5 1326.8,701.5 1323.1,700.6 1319.3,699.6 1315.6,699.0 1311.9,698.6 1308.1,698.2 1304.4,697.7 1300.7,697.3 1296.9,696.9 1293.2,696.5 1289.4,696.2 1285.7,695.9 1282.0,695.6 1278.2,695.3 1274.5,695.0 1270.8,694.7 1267.0,694.4 1263.3,694.1 1259.5,693.8 1255.8,693.5 1252.1,693.3 1248.3,693.1 1244.6,693.0" fill="rgba(255,60,60,0.30)"/>
<polygon points="1416.5,724.4 1420.2,723.1 1424.0,721.7 1427.7,720.4 1431.5,719.2 1435.2,718.1 1438.9,716.9 1442.7,715.8 1446.4,714.6 1450.2,713.5 1453.9,712.6 1457.6,711.6 1461.4,710.7 1465.1,710.4 1468.8,710.1 1472.6,709.8 1476.3,710.5 1480.0,711.2 1483.8,712.0 1487.5,713.2 1491.3,714.3 1495.0,715.5 1495.0,715.3 1491.3,715.5 1487.5,715.8 1483.8,716.0 1480.0,716.3 1476.3,716.5 1472.6,716.8 1468.8,717.4 1465.1,718.0 1461.4,718.6 1457.6,719.2 1453.9,719.8 1450.2,720.5 1446.4,721.1 1442.7,721.6 1438.9,722.2 1435.2,722.7 1431.5,723.1 1427.7,723.6 1424.0,724.0 1420.2,724.4 1416.5,724.8" fill="rgba(60,60,60,0.28)"/>
<polygon points="1495.0,715.5 1495.0,715.3" fill="rgba(255,60,60,0.30)"/>
<polyline points="0.0,706.0 25.0,708.5 50.0,709.2 70.0,707.2 87.5,705.5 100.0,706.0 115.0,708.0 125.0,708.5 136.2,711.0 147.5,712.2 180.0,713.5 190.0,716.0 200.0,716.0 212.5,717.2 225.0,716.8 237.5,716.0 250.0,716.0 265.0,717.2 277.5,719.2 290.0,721.0 300.0,726.0 311.2,732.2 322.5,735.2 333.5,739.8 345.0,743.0 356.2,746.0 367.5,746.0 377.5,744.8 388.8,744.0 400.0,741.5 410.0,738.5 421.2,736.0 432.5,732.2 443.8,728.5 455.0,724.8 465.0,722.2 474.0,719.0 486.5,715.5 499.0,713.5 511.5,712.0 524.0,711.0 536.5,710.2 549.0,710.0 561.5,710.5 574.0,711.0 586.5,710.5 599.0,712.2 611.5,714.0 629.0,715.2 649.0,719.0 674.0,719.5 686.5,718.5 699.0,718.5 711.5,721.5 724.0,723.0 736.5,726.0 749.0,728.0 761.5,729.8 771.5,731.5 781.5,736.0 794.0,739.8 804.0,740.2 814.0,741.0 826.5,744.0 836.5,743.0 849.0,747.2 861.5,753.5 874.0,761.0 884.0,764.8 894.0,771.0 904.0,774.8 914.0,774.0 924.0,771.0 936.5,763.5 948.0,758.0 958.0,751.0 968.0,744.8 980.5,738.5 993.0,732.2 1003.0,728.5 1013.0,723.5 1023.0,716.0 1033.0,711.5 1043.0,708.5 1055.5,704.0 1068.0,700.0 1078.0,698.0 1088.0,696.0 1100.5,694.0 1110.5,693.2 1123.0,693.0 1148.0,693.0 1173.0,693.5 1198.0,691.8 1223.0,691.5 1235.5,691.8 1245.5,693.5 1255.5,696.5 1260.0,696.0 1276.7,697.7 1296.7,699.3 1318.3,704.7 1330.0,710.2 1341.7,716.0 1353.3,724.3 1363.3,731.0 1375.0,738.0 1385.0,738.7 1396.7,733.5 1406.7,729.0 1416.7,724.3 1428.3,720.2 1439.2,716.8 1450.0,713.5 1461.7,710.7 1472.5,709.8 1483.3,711.8 1495.0,715.5" fill="none" stroke="#333" stroke-width="1.1"/>
<polyline points="0.0,706.5 25.0,707.8 50.0,708.0 70.0,707.8 87.5,707.0 105.0,707.0 125.0,708.0 147.5,709.8 180.0,711.0 200.0,713.5 225.0,715.2 250.0,715.5 265.0,716.0 290.0,718.0 311.2,722.2 322.5,724.8 333.5,727.8 345.0,731.0 356.2,734.2 367.5,736.5 377.5,738.0 388.8,739.0 400.0,739.8 410.0,739.8 421.2,739.0 432.5,737.8 443.8,736.0 455.0,733.5 465.0,731.5 474.0,729.2 486.5,726.8 499.0,723.5 511.5,721.0 524.0,719.0 536.5,717.0 549.0,715.5 561.5,714.2 574.0,713.2 586.5,712.8 599.0,712.5 611.5,713.0 629.0,714.0 649.0,715.5 674.0,717.0 699.0,717.5 711.5,718.5 724.0,719.8 736.5,721.5 749.0,723.0 761.5,724.8 771.5,726.0 781.5,728.0 794.0,730.5 804.0,732.2 814.0,734.0 826.5,736.5 836.5,738.0 849.0,740.5 861.5,744.0 874.0,748.5 884.0,751.5 894.0,755.5 904.0,759.0 914.0,761.5 924.0,763.0 936.5,763.0 948.0,762.2 958.0,760.5 968.0,758.0 980.5,754.0 993.0,749.8 1003.0,746.0 1013.0,741.5 1023.0,736.8 1033.0,731.5 1043.0,727.2 1055.5,721.5 1068.0,716.5 1078.0,713.0 1088.0,709.8 1100.5,706.5 1110.5,704.2 1123.0,702.0 1135.5,700.0 1148.0,698.5 1173.0,696.0 1198.0,694.5 1223.0,693.2 1235.5,693.0 1245.5,693.0 1255.5,693.5 1260.0,693.8 1276.7,695.2 1296.7,696.8 1318.3,699.3 1330.0,702.3 1341.7,705.7 1353.3,710.2 1363.3,714.7 1375.0,719.3 1385.0,722.3 1396.7,724.7 1406.7,725.3 1416.7,724.8 1428.3,723.5 1439.2,722.2 1450.0,720.5 1461.7,718.5 1472.5,716.8 1483.3,716.0 1495.0,715.3" fill="none" stroke="#ff0000" stroke-width="1.2"/>
<line x1="70.5" y1="693.5" x2="323.2" y2="711.2" stroke="#111" stroke-width="2.1" stroke-linecap="round"/>
<line x1="552.2" y1="693.5" x2="695.8" y2="703.8" stroke="#111" stroke-width="2.1" stroke-linecap="round"/>
<line x1="1243.0" y1="684.8" x2="1490.3" y2="702.2" stroke="#111" stroke-width="2.1" stroke-linecap="round"/>
</g>
<rect x="0" y="788" width="1894" height="2" fill="#1d2530"/>
<rect x="0" y="811" width="1846.6" height="1" fill="#d6d6d6"/>
<rect x="0" y="833" width="1846.6" height="1" fill="#d6d6d6"/>
<rect x="0" y="855" width="1846.6" height="1" fill="#d6d6d6"/>
<rect x="0" y="877" width="1846.6" height="1" fill="#d6d6d6"/>
<rect x="0" y="822" width="1824" height="1" fill="#62bcc4"/>
<rect x="0" y="866" width="1824" height="1" fill="#f0a070"/>
<line x1="0" y1="844.5" x2="1822" y2="844.5" stroke="#777" stroke-width="1" stroke-dasharray="7.5,4.5"/>
<g clip-path="url(#clipRsi)">
<polygon points="-5.9,822.3 -5.9,822.3 -4.5,822.3 -3.2,822.3 -1.8,822.3 -0.4,822.3 1.0,822.3 2.3,822.3 3.7,822.3 5.1,822.3 5.1,822.3 6.4,822.3 7.8,822.3 9.2,822.3 10.5,822.3 11.9,822.3 13.3,822.3 14.6,822.3 16.0,822.3 16.0,822.3 17.4,822.3 18.8,822.3 20.1,822.3 21.5,822.3 22.9,822.3 24.2,822.3 25.6,822.3 27.0,822.3 27.0,822.3 28.3,822.3 29.7,822.3 31.1,822.3 32.5,822.3 33.8,822.3 35.2,822.3 36.6,822.3 37.9,822.3 37.9,822.3 39.3,822.3 40.7,822.3 42.0,822.3 43.4,822.3 44.8,822.3 46.2,822.3 47.5,822.3 48.9,822.3 48.9,822.3 50.3,822.3 51.6,822.3 53.0,822.3 54.4,822.3 55.7,822.3 57.1,822.2 58.5,821.6 59.9,821.0 59.9,821.0 61.2,820.9 62.6,820.8 64.0,820.7 65.3,820.6 66.7,820.5 68.1,820.4 69.4,820.3 70.8,820.2 70.8,820.2 72.2,819.8 73.5,819.4 74.9,818.9 76.3,818.5 77.7,818.1 79.0,817.6 80.4,817.2 81.8,816.8 81.8,816.8 83.1,817.0 84.5,817.2 85.9,817.5 87.2,817.8 88.6,818.0 90.0,818.2 91.4,818.5 92.7,818.8 92.7,818.8 94.1,819.5 95.5,820.2 96.8,820.9 98.2,821.6 99.6,822.3 100.9,822.3 102.3,822.3 103.7,822.3 103.7,822.3 105.1,822.3 106.4,822.3 107.8,822.3 109.2,822.3 110.5,822.3 111.9,822.3 113.3,822.3 114.6,822.3 114.6,822.3 116.0,822.3 117.4,822.3 118.8,822.3 120.1,822.3 121.5,822.3 122.9,822.3 124.2,822.3 125.6,822.3 125.6,822.3 127.0,822.3 128.3,822.3 129.7,822.3 131.1,822.3 132.5,822.3 133.8,822.3 135.2,822.3 136.6,822.3 136.6,822.3 137.9,822.3 139.3,822.3 140.7,822.3 142.0,822.3 143.4,822.3 144.8,822.3 146.1,822.3 147.5,822.3 147.5,822.3 148.9,822.3 150.3,822.3 151.6,822.3 153.0,822.3 154.4,822.3 155.7,822.3 157.1,822.3 158.5,822.3 158.5,822.3 159.8,822.3 161.2,822.3 162.6,822.3 164.0,822.3 165.3,822.3 166.7,822.3 168.1,822.3 169.4,822.3 169.4,822.3 170.8,822.3 172.2,822.3 173.5,822.3 174.9,822.3 176.3,822.3 177.7,822.3 179.0,822.3 180.4,822.3 180.4,822.3 181.8,822.3 183.1,822.3 184.5,822.3 185.9,822.3 187.2,822.3 188.6,822.3 190.0,822.3 191.4,822.3 191.4,822.3 192.7,822.3 194.1,822.3 195.5,822.3 196.8,822.3 198.2,822.3 199.6,822.3 200.9,822.3 202.3,822.3 202.3,822.3 203.7,822.3 205.0,822.3 206.4,822.3 207.8,822.3 209.2,822.3 210.5,822.3 211.9,822.3 213.3,822.3 213.3,822.3 214.6,822.3 216.0,822.3 217.4,822.3 218.7,822.3 220.1,822.3 221.5,822.3 222.9,822.3 224.2,822.3 224.2,822.3 225.6,822.3 227.0,822.3 228.3,822.3 229.7,822.3 231.1,822.3 232.4,822.3 233.8,822.3 235.2,822.3 235.2,822.3 236.6,822.3 237.9,822.3 239.3,822.3 240.7,822.3 242.0,822.3 243.4,822.3 244.8,822.3 246.1,822.3 246.1,822.3 247.5,822.3 248.9,822.3 250.3,822.3 251.6,822.3 253.0,822.3 254.4,822.3 255.7,822.3 257.1,822.3 257.1,822.3 258.5,822.3 259.8,822.3 261.2,822.3 262.6,822.3 263.9,822.3 265.3,822.3 266.7,822.3 268.1,822.3 268.1,822.3 269.4,822.3 270.8,822.3 272.2,822.3 273.5,822.3 274.9,822.3 276.3,822.3 277.6,822.3 279.0,822.3 279.0,822.3 280.4,822.3 281.8,822.3 283.1,822.3 284.5,822.3 285.9,822.3 287.2,822.3 288.6,822.3 290.0,822.3 290.0,822.3 291.3,822.3 292.7,822.3 294.1,822.3 295.5,822.3 296.8,822.3 298.2,822.3 299.6,822.3 300.9,822.3 300.9,822.3 302.3,822.3 303.7,822.3 305.0,822.3 306.4,822.3 307.8,822.3 309.2,822.3 310.5,822.3 311.9,822.3 311.9,822.3 313.3,822.3 314.6,822.3 316.0,822.3 317.4,822.3 318.7,822.3 320.1,822.3 321.5,822.3 322.9,822.3 322.9,822.3 324.2,822.3 325.6,822.3 327.0,822.3 328.3,822.3 329.7,822.3 331.1,822.3 332.4,822.3 333.8,822.3 333.8,822.3 335.2,822.3 336.5,822.3 337.9,822.3 339.3,822.3 340.7,822.3 342.0,822.3 343.4,822.3 344.8,822.3 344.8,822.3 346.1,822.3 347.5,822.3 348.9,822.3 350.2,822.3 351.6,822.3 353.0,822.3 354.4,822.3 355.7,822.3 355.7,822.3 357.1,822.3 358.5,822.3 359.8,822.3 361.2,822.3 362.6,822.3 363.9,822.3 365.3,822.3 366.7,822.3 366.7,822.3 368.1,822.3 369.4,822.3 370.8,822.3 372.2,822.3 373.5,822.3 374.9,822.3 376.3,822.3 377.6,822.3 377.6,822.3 379.0,822.3 380.4,822.3 381.8,822.3 383.1,822.3 384.5,822.3 385.9,822.3 387.2,822.3 388.6,822.3 388.6,822.3 390.0,822.3 391.3,822.3 392.7,822.3 394.1,822.3 395.4,822.3 396.8,822.3 398.2,822.3 399.6,822.3 399.6,822.3 400.9,822.3 402.3,822.3 403.7,822.3 405.0,822.3 406.4,822.3 407.8,822.3 409.1,822.3 410.5,822.3 410.5,822.3 411.9,822.3 413.3,822.3 414.6,822.3 416.0,822.3 417.4,822.3 418.7,822.3 420.1,822.3 421.5,822.3 421.5,822.3 422.8,822.3 424.2,822.3 425.6,822.3 427.0,822.3 428.3,822.3 429.7,822.3 431.1,822.3 432.4,822.3 432.4,822.3 433.8,822.3 435.2,822.3 436.5,822.3 437.9,822.3 439.3,822.3 440.7,822.3 442.0,822.3 443.4,822.3 443.4,822.3 444.8,822.3 446.1,822.3 447.5,822.3 448.9,822.3 450.2,822.3 451.6,822.3 453.0,822.3 454.4,822.3 454.4,822.3 455.7,822.3 457.1,822.3 458.5,822.3 459.8,822.3 461.2,822.3 462.6,822.3 463.9,822.3 465.3,822.3 465.3,822.3 466.7,822.3 468.0,822.3 469.4,822.3 470.8,822.3 472.2,822.3 473.5,822.3 474.9,822.3 476.3,822.3 476.3,822.3 477.6,822.3 479.0,822.3 480.4,822.3 481.7,822.3 483.1,822.3 484.5,822.3 485.9,822.3 487.2,822.3 487.2,822.3 488.6,822.3 490.0,822.3 491.3,822.3 492.7,822.3 494.1,822.3 495.4,822.3 496.8,822.3 498.2,822.3 498.2,822.3 499.6,822.3 500.9,822.3 502.3,822.3 503.7,822.3 505.0,822.3 506.4,822.3 507.8,822.3 509.1,822.3 509.1,822.3 510.5,822.3 511.9,822.3 513.3,822.3 514.6,822.3 516.0,822.3 517.4,822.3 518.7,822.3 520.1,822.3 520.1,822.3 521.5,822.3 522.8,822.3 524.2,822.3 525.6,822.3 526.9,822.3 528.3,822.3 529.7,822.3 531.1,822.3 531.1,822.3 532.4,822.3 533.8,822.3 535.2,822.3 536.5,822.3 537.9,822.3 539.3,822.3 540.6,822.3 542.0,822.3 542.0,822.3 543.4,822.3 544.8,822.3 546.1,822.3 547.5,822.3 548.9,822.3 550.2,822.3 551.6,822.3 553.0,822.3 553.0,822.3 554.3,822.3 555.7,822.3 557.1,822.3 558.5,822.3 559.8,822.3 561.2,822.3 562.6,822.3 563.9,822.3 563.9,822.3 565.3,822.3 566.7,822.3 568.0,822.3 569.4,822.3 570.8,822.3 572.2,822.3 573.5,822.3 574.9,822.3 574.9,822.3 576.3,822.3 577.6,822.3 579.0,822.3 580.4,822.3 581.7,822.3 583.1,822.3 584.5,822.3 585.8,822.3 585.8,822.3 587.2,822.3 588.6,822.3 590.0,822.3 591.3,822.3 592.7,822.3 594.1,822.3 595.4,822.3 596.8,822.3 596.8,822.3 598.2,822.3 599.5,822.3 600.9,822.3 602.3,822.3 603.7,822.3 605.0,822.3 606.4,822.3 607.8,822.3 607.8,822.3 609.1,822.3 610.5,822.3 611.9,822.3 613.2,822.3 614.6,822.3 616.0,822.3 617.4,822.3 618.7,822.3 618.7,822.3 620.1,822.3 621.5,822.3 622.8,822.3 624.2,822.3 625.6,822.3 626.9,822.3 628.3,822.3 629.7,822.3 629.7,822.3 631.1,822.3 632.4,822.3 633.8,822.3 635.2,822.3 636.5,822.3 637.9,822.3 639.3,822.3 640.6,822.3 640.6,822.3 642.0,822.3 643.4,822.3 644.8,822.3 646.1,822.3 647.5,822.3 648.9,822.3 650.2,822.3 651.6,822.3 651.6,822.3 653.0,822.3 654.3,822.3 655.7,822.3 657.1,822.3 658.4,822.3 659.8,822.3 661.2,822.3 662.6,822.3 662.6,822.3 663.9,822.3 665.3,822.3 666.7,822.3 668.0,822.3 669.4,822.3 670.8,822.3 672.1,822.3 673.5,822.3 673.5,822.3 674.9,822.3 676.3,822.3 677.6,822.3 679.0,822.3 680.4,822.3 681.7,822.3 683.1,822.3 684.5,822.3 684.5,822.3 685.8,822.3 687.2,822.3 688.6,822.3 690.0,822.3 691.3,822.3 692.7,822.3 694.1,822.3 695.4,822.3 695.4,822.3 696.8,822.3 698.2,822.3 699.5,822.3 700.9,822.3 702.3,822.3 703.7,822.3 705.0,822.3 706.4,822.3 706.4,822.3 707.8,822.3 709.1,822.3 710.5,822.3 711.9,822.3 713.2,822.3 714.6,822.3 716.0,822.3 717.3,822.3 717.3,822.3 718.7,822.3 720.1,822.3 721.5,822.3 722.8,822.3 724.2,822.3 725.6,822.3 726.9,822.3 728.3,822.3 728.3,822.3 729.7,822.3 731.0,822.3 732.4,822.3 733.8,822.3 735.2,822.3 736.5,822.3 737.9,822.3 739.3,822.3 739.3,822.3 740.6,822.3 742.0,822.3 743.4,822.3 744.7,822.3 746.1,822.3 747.5,822.3 748.9,822.3 750.2,822.3 750.2,822.3 751.6,822.3 753.0,822.3 754.3,822.3 755.7,822.3 757.1,822.3 758.4,822.3 759.8,822.3 761.2,822.3 761.2,822.3 762.6,822.3 763.9,822.3 765.3,822.3 766.7,822.3 768.0,822.3 769.4,822.3 770.8,822.3 772.1,822.3 772.1,822.3 773.5,822.3 774.9,822.3 776.3,822.3 777.6,822.3 779.0,822.3 780.4,822.3 781.7,822.3 783.1,822.3 783.1,822.3 784.5,822.3 785.8,822.3 787.2,822.3 788.6,822.3 789.9,822.3 791.3,822.3 792.7,822.3 794.1,822.3 794.1,822.3 795.4,822.3 796.8,822.3 798.2,822.3 799.5,822.3 800.9,822.3 802.3,822.3 803.6,822.3 805.0,822.3 805.0,822.3 806.4,822.3 807.8,822.3 809.1,822.3 810.5,822.3 811.9,822.3 813.2,822.3 814.6,822.3 816.0,822.3 816.0,822.3 817.3,822.3 818.7,822.3 820.1,822.3 821.5,822.3 822.8,822.3 824.2,822.3 825.6,822.3 826.9,822.3 826.9,822.3 828.3,822.3 829.7,822.3 831.0,822.3 832.4,822.3 833.8,822.3 835.2,822.3 836.5,822.3 837.9,822.3 837.9,822.3 839.3,822.3 840.6,822.3 842.0,822.3 843.4,822.3 844.7,822.3 846.1,822.3 847.5,822.3 848.8,822.3 848.8,822.3 850.2,822.3 851.6,822.3 853.0,822.3 854.3,822.3 855.7,822.3 857.1,822.3 858.4,822.3 859.8,822.3 859.8,822.3 861.2,822.3 862.5,822.3 863.9,822.3 865.3,822.3 866.7,822.3 868.0,822.3 869.4,822.3 870.8,822.3 870.8,822.3 872.1,822.3 873.5,822.3 874.9,822.3 876.2,822.3 877.6,822.3 879.0,822.3 880.4,822.3 881.7,822.3 881.7,822.3 883.1,822.3 884.5,822.3 885.8,822.3 887.2,822.3 888.6,822.3 889.9,822.3 891.3,822.3 892.7,822.3 892.7,822.3 894.1,822.3 895.4,822.3 896.8,822.3 898.2,822.3 899.5,822.3 900.9,822.3 902.3,822.3 903.6,822.3 903.6,822.3 905.0,822.3 906.4,822.3 907.7,822.3 909.1,822.3 910.5,822.3 911.9,822.3 913.2,822.3 914.6,822.3 914.6,822.3 916.0,822.3 917.3,822.3 918.7,822.3 920.1,822.3 921.4,822.3 922.8,822.3 924.2,822.3 925.6,822.3 925.6,822.3 926.9,822.3 928.3,822.3 929.7,822.3 931.0,822.3 932.4,822.3 933.8,822.3 935.1,822.3 936.5,822.3 936.5,822.3 937.9,822.3 939.3,822.3 940.6,822.3 942.0,822.3 943.4,822.3 944.7,822.3 946.1,822.3 947.5,822.3 947.5,822.3 948.8,822.3 950.2,822.3 951.6,822.3 953.0,822.3 954.3,822.3 955.7,822.3 957.1,822.3 958.4,822.3 958.4,822.3 959.8,822.3 961.2,822.3 962.5,822.3 963.9,822.3 965.3,822.3 966.7,822.3 968.0,822.3 969.4,822.3 969.4,822.3 970.8,822.3 972.1,822.3 973.5,822.3 974.9,822.3 976.2,822.3 977.6,822.3 979.0,822.3 980.3,822.3 980.3,822.3 981.7,822.3 983.1,822.3 984.5,822.3 985.8,822.3 987.2,822.3 988.6,822.3 989.9,822.3 991.3,822.3 991.3,822.3 992.7,822.3 994.0,822.3 995.4,822.3 996.8,822.3 998.2,822.3 999.5,822.3 1000.9,822.3 1002.3,822.3 1002.3,822.3 1003.6,822.3 1005.0,822.3 1006.4,822.3 1007.7,822.3 1009.1,822.3 1010.5,822.3 1011.9,822.3 1013.2,822.3 1013.2,822.3 1014.6,822.3 1016.0,822.3 1017.3,822.3 1018.7,822.3 1020.1,822.3 1021.4,822.3 1022.8,822.3 1024.2,822.3 1024.2,822.3 1025.6,822.3 1026.9,822.3 1028.3,822.3 1029.7,822.3 1031.0,822.3 1032.4,822.3 1033.8,822.3 1035.1,822.3 1035.1,822.3 1036.5,822.3 1037.9,822.3 1039.2,822.3 1040.6,822.3 1042.0,822.3 1043.4,822.3 1044.7,822.3 1046.1,822.3 1046.1,822.3 1047.5,822.3 1048.8,822.3 1050.2,822.3 1051.6,822.3 1052.9,822.3 1054.3,822.3 1055.7,822.3 1057.1,822.3 1057.1,822.3 1058.4,822.3 1059.8,822.3 1061.2,822.3 1062.5,822.3 1063.9,822.3 1065.3,822.3 1066.6,822.3 1068.0,822.3 1068.0,822.3 1069.4,822.3 1070.8,822.3 1072.1,822.3 1073.5,822.3 1074.9,822.3 1076.2,822.3 1077.6,822.3 1079.0,822.3 1079.0,822.3 1080.3,822.3 1081.7,822.3 1083.1,822.3 1084.5,822.3 1085.8,822.3 1087.2,822.3 1088.6,822.3 1089.9,822.3 1089.9,822.3 1091.3,822.3 1092.7,822.3 1094.0,822.3 1095.4,822.3 1096.8,822.3 1098.2,822.3 1099.5,822.3 1100.9,822.3 1100.9,822.3 1102.3,822.3 1103.6,822.3 1105.0,822.3 1106.4,822.3 1107.7,822.3 1109.1,822.3 1110.5,822.3 1111.8,822.3 1111.8,822.3 1113.2,822.3 1114.6,822.3 1116.0,822.3 1117.3,822.3 1118.7,822.3 1120.1,822.3 1121.4,822.3 1122.8,822.3 1122.8,822.3 1124.2,822.3 1125.5,822.3 1126.9,822.3 1128.3,822.3 1129.7,822.3 1131.0,822.3 1132.4,822.3 1133.8,822.3 1133.8,822.3 1135.1,822.3 1136.5,822.3 1137.9,822.3 1139.2,822.3 1140.6,822.3 1142.0,822.3 1143.4,822.3 1144.7,822.3 1144.7,822.3 1146.1,822.3 1147.5,822.3 1148.8,822.3 1150.2,822.3 1151.6,822.3 1152.9,822.3 1154.3,822.3 1155.7,822.3 1155.7,822.3 1157.1,822.3 1158.4,822.3 1159.8,822.3 1161.2,822.3 1162.5,822.3 1163.9,822.3 1165.3,822.3 1166.6,822.3 1166.6,822.3 1168.0,822.3 1169.4,822.3 1170.7,822.3 1172.1,822.3 1173.5,822.3 1174.9,822.3 1176.2,822.3 1177.6,822.3 1177.6,822.3 1179.0,822.3 1180.3,822.3 1181.7,822.2 1183.1,821.9 1184.4,821.6 1185.8,821.3 1187.2,821.0 1188.6,820.8 1188.6,820.8 1189.9,820.6 1191.3,820.5 1192.7,820.4 1194.0,820.2 1195.4,820.1 1196.8,820.0 1198.1,819.9 1199.5,819.8 1199.5,819.8 1200.9,819.7 1202.3,819.7 1203.6,819.7 1205.0,819.6 1206.4,819.6 1207.7,819.6 1209.1,819.5 1210.5,819.5 1210.5,819.5 1211.8,819.3 1213.2,819.2 1214.6,819.0 1216.0,818.9 1217.3,818.7 1218.7,818.6 1220.1,818.4 1221.4,818.2 1221.4,818.2 1222.8,818.2 1224.2,818.2 1225.5,818.2 1226.9,818.1 1228.3,818.1 1229.7,818.1 1231.0,818.0 1232.4,818.0 1232.4,818.0 1233.8,818.7 1235.1,819.4 1236.5,820.2 1237.9,820.9 1239.2,821.6 1240.6,822.3 1242.0,822.3 1243.3,822.3 1243.3,822.3 1244.7,822.3 1246.1,822.3 1247.5,822.3 1248.8,822.3 1250.2,822.3 1251.6,822.3 1252.9,822.3 1254.3,822.3 1254.3,822.3 1255.7,822.3 1257.0,822.3 1258.4,822.3 1259.8,822.3 1261.2,822.3 1262.5,822.3 1263.9,822.3 1265.3,822.3 1265.3,822.3 1266.6,822.3 1268.0,822.3 1269.4,822.3 1270.7,822.3 1272.1,822.3 1273.5,822.3 1274.9,822.3 1276.2,822.3 1276.2,822.3 1277.6,822.3 1279.0,822.3 1280.3,822.3 1281.7,822.3 1283.1,822.3 1284.4,822.3 1285.8,822.3 1287.2,822.3 1287.2,822.3 1288.6,822.3 1289.9,822.3 1291.3,822.3 1292.7,822.3 1294.0,822.3 1295.4,822.3 1296.8,822.3 1298.1,822.3 1298.1,822.3 1299.5,822.3 1300.9,822.3 1302.2,822.3 1303.6,822.3 1305.0,822.3 1306.4,822.3 1307.7,822.3 1309.1,822.3 1309.1,822.3 1310.5,822.3 1311.8,822.3 1313.2,822.3 1314.6,822.3 1315.9,822.3 1317.3,822.3 1318.7,822.3 1320.1,822.3 1320.1,822.3 1321.4,822.3 1322.8,822.3 1324.2,822.3 1325.5,822.3 1326.9,822.3 1328.3,822.3 1329.6,822.3 1331.0,822.3 1331.0,822.3 1332.4,822.3 1333.8,822.3 1335.1,822.3 1336.5,822.3 1337.9,822.3 1339.2,822.3 1340.6,822.3 1342.0,822.3 1342.0,822.3 1343.3,822.3 1344.7,822.3 1346.1,822.3 1347.5,822.3 1348.8,822.3 1350.2,822.3 1351.6,822.3 1352.9,822.3 1352.9,822.3 1354.3,822.3 1355.7,822.3 1357.0,822.3 1358.4,822.3 1359.8,822.3 1361.1,822.3 1362.5,822.3 1363.9,822.3 1363.9,822.3 1365.3,822.3 1366.6,822.3 1368.0,822.3 1369.4,822.3 1370.7,822.3 1372.1,822.3 1373.5,822.3 1374.8,822.3 1374.8,822.3 1376.2,822.3 1377.6,822.3 1379.0,822.3 1380.3,822.3 1381.7,822.3 1383.1,822.3 1384.4,822.3 1385.8,822.3 1385.8,822.3 1387.2,822.3 1388.5,822.3 1389.9,822.3 1391.3,822.3 1392.7,822.3 1394.0,822.3 1395.4,822.3 1396.8,822.3 1396.8,822.3 1398.1,822.3 1399.5,822.3 1400.9,822.3 1402.2,822.3 1403.6,822.3 1405.0,822.3 1406.4,822.3 1407.7,822.3 1407.7,822.3 1409.1,822.3 1410.5,822.3 1411.8,822.3 1413.2,822.3 1414.6,822.3 1415.9,822.3 1417.3,822.3 1418.7,822.3 1418.7,822.3 1420.1,822.3 1421.4,822.3 1422.8,822.3 1424.2,822.3 1425.5,822.3 1426.9,822.3 1428.3,822.3 1429.6,822.3 1429.6,822.3 1431.0,822.3 1432.4,822.3 1433.7,822.3 1435.1,822.3 1436.5,822.3 1437.9,822.3 1439.2,822.3 1440.6,822.3 1440.6,822.3 1442.0,822.3 1443.3,822.3 1444.7,822.3 1446.1,822.3 1447.4,822.3 1448.8,822.3 1450.2,822.3 1451.6,822.3 1451.6,822.3 1452.9,822.3 1454.3,822.3 1455.7,822.3 1457.0,822.3 1458.4,822.3 1459.8,822.3 1461.1,822.3 1462.5,822.3 1462.5,822.3 1463.9,822.3 1465.3,822.3 1466.6,822.3 1468.0,822.3 1469.4,822.3 1470.7,822.3 1472.1,822.3 1473.5,822.3 1473.5,822.3 1474.8,822.3 1476.2,822.3 1477.6,822.3 1479.0,822.3 1480.3,822.3 1481.7,822.3 1483.1,822.3 1484.4,822.3 1484.4,822.3 1485.8,822.3 1487.2,822.3 1488.5,822.3 1489.9,822.3 1491.3,822.3 1492.6,822.3 1494.0,822.3 1495.4,822.3 1495.4,822.3" fill="rgba(90,185,195,0.32)"/>
<polyline points="-5.9,826.8 5.1,831.8 16.0,828.8 27.0,828.8 37.9,827.2 48.9,826.0 59.9,821.0 70.8,820.2 81.8,816.8 92.7,818.8 103.7,824.5 114.6,834.0 125.6,830.8 136.6,838.5 147.5,835.5 158.5,831.5 169.4,833.2 180.4,832.0 191.4,846.8 202.3,835.5 213.3,839.2 224.2,835.0 235.2,832.5 246.1,833.5 257.1,838.8 268.1,838.0 279.0,842.8 290.0,842.8 300.9,860.2 311.9,862.5 322.9,855.0 333.8,860.8 344.8,860.5 355.7,863.0 366.7,853.8 377.6,849.2 388.6,850.0 399.6,843.8 410.5,840.5 421.5,840.5 432.4,835.0 443.4,831.8 454.4,830.0 465.3,827.8 476.3,829.0 487.2,827.2 498.2,826.0 509.1,827.0 520.1,826.5 531.1,826.8 542.0,826.0 553.0,826.5 563.9,828.0 574.9,828.0 585.8,823.8 596.8,830.5 607.8,839.8 618.7,836.8 629.7,834.2 640.6,845.5 651.6,845.0 662.6,836.0 673.5,834.2 684.5,829.5 695.4,833.8 706.4,844.8 717.3,851.0 728.3,841.0 739.3,852.5 750.2,847.0 761.2,849.5 772.1,852.5 783.1,858.5 794.1,859.0 805.0,849.5 816.0,851.5 826.9,859.8 837.9,846.8 848.8,857.0 859.8,861.2 870.8,865.8 881.7,862.0 892.7,867.0 903.6,864.5 914.6,856.0 925.6,850.0 936.5,842.5 947.5,845.5 958.4,841.0 969.4,838.5 980.3,839.0 991.3,835.0 1002.3,836.5 1013.2,833.5 1024.2,829.2 1035.1,829.0 1046.1,831.0 1057.1,828.5 1068.0,827.0 1079.0,827.8 1089.9,826.0 1100.9,826.0 1111.8,826.8 1122.8,827.5 1133.8,826.0 1144.7,825.8 1155.7,823.8 1166.6,824.8 1177.6,823.0 1188.6,820.8 1199.5,819.8 1210.5,819.5 1221.4,818.2 1232.4,818.0 1243.3,823.8 1254.3,834.5 1265.3,828.5 1276.2,826.8 1287.2,827.5 1298.1,826.0 1309.1,836.3 1320.1,838.0 1331.0,852.2 1342.0,850.5 1352.9,860.0 1363.9,862.2 1374.8,866.5 1385.8,850.0 1396.8,835.7 1407.7,835.2 1418.7,833.3 1429.6,831.8 1440.6,832.2 1451.6,830.5 1462.5,829.5 1473.5,834.3 1484.4,841.7 1495.4,845.0" fill="none" stroke="#e8009c" stroke-width="2.0" stroke-linejoin="round"/>
<line x1="70.5" y1="805.8" x2="246.5" y2="820.0" stroke="#111" stroke-width="2.1" stroke-linecap="round"/>
<line x1="552.2" y1="799.8" x2="695.8" y2="812.2" stroke="#111" stroke-width="2.1" stroke-linecap="round"/>
<line x1="1220.5" y1="809.8" x2="1473.8" y2="821.3" stroke="#111" stroke-width="2.1" stroke-linecap="round"/>
</g>
<rect x="1842" y="79" width="2" height="820" fill="#adadad"/>
<text x="1849.1" y="107.8" font-size="10" fill="#2a2a2a" stroke="#2a2a2a" stroke-width="0.22" textLength="41.2" lengthAdjust="spacingAndGlyphs">2,100.00</text>
<text x="1849.1" y="274.8" font-size="10" fill="#2a2a2a" stroke="#2a2a2a" stroke-width="0.22" textLength="41.2" lengthAdjust="spacingAndGlyphs">2,000.00</text>
<text x="1849.1" y="441.7" font-size="10" fill="#2a2a2a" stroke="#2a2a2a" stroke-width="0.22" textLength="41.2" lengthAdjust="spacingAndGlyphs">1,900.00</text>
<text x="1849.1" y="608.6" font-size="10" fill="#2a2a2a" stroke="#2a2a2a" stroke-width="0.22" textLength="41.2" lengthAdjust="spacingAndGlyphs">1,800.00</text>
<text x="1849.6" y="762.8" font-size="10" fill="#2a2a2a" stroke="#2a2a2a" stroke-width="0.22" textLength="28.8" lengthAdjust="spacingAndGlyphs">-20.00</text>
<text x="1849.4" y="835.8" font-size="9.6" fill="#2a2a2a" stroke="#2a2a2a" stroke-width="0.22" textLength="34.6" lengthAdjust="spacingAndGlyphs">60.00%</text>
<text x="1849.4" y="857.9" font-size="9.6" fill="#2a2a2a" stroke="#2a2a2a" stroke-width="0.22" textLength="34.6" lengthAdjust="spacingAndGlyphs">40.00%</text>
<text x="1849.4" y="880.0" font-size="9.6" fill="#2a2a2a" stroke="#2a2a2a" stroke-width="0.22" textLength="34.6" lengthAdjust="spacingAndGlyphs">20.00%</text>
<rect x="1844" y="801" width="2.4" height="1" fill="#adadad"/>
<rect x="1844" y="811" width="2.4" height="1" fill="#adadad"/>
<rect x="1844" y="822" width="2.4" height="1" fill="#adadad"/>
<rect x="1844" y="833" width="2.4" height="1" fill="#adadad"/>
<rect x="1844" y="844" width="2.4" height="1" fill="#adadad"/>
<rect x="1844" y="855" width="2.4" height="1" fill="#adadad"/>
<rect x="1844" y="866" width="2.4" height="1" fill="#adadad"/>
<rect x="1844" y="877" width="2.4" height="1" fill="#adadad"/>
<rect x="1844" y="888" width="2.4" height="1" fill="#adadad"/>
<rect x="1844" y="745" width="2.4" height="1" fill="#adadad"/>
<rect x="1844" y="774" width="2.4" height="1" fill="#adadad"/>
<polygon points="1834.4,499.9 1848.8,490.1 1894.7,490.1 1894.7,509.7 1848.8,509.7" fill="#ff0000"/>
<text x="1891" y="503.2" font-size="10.6" font-weight="bold" fill="#fff" stroke="#fff" stroke-width="0.3" text-anchor="end">1,863.01</text>
<polygon points="1834.4,461.1 1848.8,451.3 1894.7,451.3 1894.7,470.9 1848.8,470.9" fill="#00b400"/>
<text x="1891" y="464.4" font-size="10.6" font-weight="bold" fill="#fff" stroke="#fff" stroke-width="0.3" text-anchor="end">1,886.29</text>
<polygon points="1834.4,391.7 1848.8,381.9 1894.7,381.9 1894.7,401.5 1848.8,401.5" fill="#242424"/>
<text x="1891" y="395.0" font-size="10.6" font-weight="bold" fill="#fff" stroke="#fff" stroke-width="0.3" text-anchor="end">1,927.84</text>
<polygon points="1834.4,360.7 1848.8,350.9 1894.7,350.9 1894.7,370.5 1848.8,370.5" fill="#e8009c"/>
<text x="1891" y="363.2" font-size="10.6" font-weight="bold" fill="#fff" stroke="#fff" stroke-width="0.3" text-anchor="end">1,946.42</text>
<polygon points="1834.4,329.3 1848.8,319.5 1894.7,319.5 1894.7,339.1 1848.8,339.1" fill="#35b0c0"/>
<text x="1891" y="331.3" font-size="10.6" font-weight="bold" fill="#111" stroke="#111" stroke-width="0.3" text-anchor="end">1,965.04</text>
<polygon points="1834.4,346.4 1848.8,336.6 1894.7,336.6 1894.7,356.2 1848.8,356.2" fill="#ff9a10"/>
<text x="1891" y="349.7" font-size="10.6" font-weight="bold" fill="#111" stroke="#111" stroke-width="0.3" text-anchor="end">1,954.97</text>
<rect x="1839.8" y="313.5" width="52.5" height="18.2" rx="3" ry="3" fill="#242424"/>
<text x="1886.6" y="326.6" font-size="10.6" font-weight="bold" fill="#fff" stroke="#fff" stroke-width="0.3" text-anchor="end">1,969.35</text>
<rect x="1839.8" y="232.8" width="52.5" height="18.2" rx="3" ry="3" fill="#242424"/>
<text x="1886.6" y="245.9" font-size="10.6" font-weight="bold" fill="#fff" stroke="#fff" stroke-width="0.3" text-anchor="end">2,017.58</text>
<rect x="1839.8" y="208.0" width="52.5" height="18.2" rx="3" ry="3" fill="#242424"/>
<text x="1886.6" y="221.1" font-size="10.6" font-weight="bold" fill="#fff" stroke="#fff" stroke-width="0.3" text-anchor="end">2,032.47</text>
<rect x="1839.8" y="183.1" width="52.5" height="18.2" rx="3" ry="3" fill="#242424"/>
<text x="1886.6" y="196.2" font-size="10.6" font-weight="bold" fill="#fff" stroke="#fff" stroke-width="0.3" text-anchor="end">2,047.37</text>
<rect x="1838.7" y="173.8" width="50.8" height="19.4" rx="3" ry="3" fill="url(#gCur)" fill-opacity="0.9"/>
<text x="1886.5" y="188" font-size="10.6" font-weight="bold" fill="#fff" stroke="#fff" stroke-width="0.3" text-anchor="end">2,053.10</text>
<rect x="1839.8" y="152.3" width="52.5" height="18.2" rx="3" ry="3" fill="#242424"/>
<text x="1886.6" y="165.4" font-size="10.6" font-weight="bold" fill="#fff" stroke="#fff" stroke-width="0.3" text-anchor="end">2,065.80</text>
<rect x="1839.8" y="102.5" width="52.5" height="18.2" rx="3" ry="3" fill="#242424"/>
<text x="1886.6" y="115.6" font-size="10.6" font-weight="bold" fill="#fff" stroke="#fff" stroke-width="0.3" text-anchor="end">2,095.60</text>
<polygon points="1834.4,706.2 1848.8,695.8 1894.7,695.8 1894.7,716.6 1848.8,716.6" fill="#111"/>
<text x="1891" y="709.5" font-size="10.6" font-weight="bold" fill="#fff" stroke="#fff" stroke-width="0.3" text-anchor="end"></text>
<polygon points="1834.4,706.9 1848.8,696.5 1894.7,696.5 1894.7,717.2 1848.8,717.2" fill="#ff0000"/>
<text x="1873.7" y="710.4" font-size="10.6" font-weight="bold" fill="#fff" stroke="#fff" stroke-width="0.3" text-anchor="middle">15.13</text>
<polygon points="1834.4,728.5 1848.8,718.4 1894.7,718.4 1894.7,738.6 1848.8,738.6" fill="#35b0c0"/>
<text x="1873.6" y="730.4" font-size="10.6" font-weight="bold" fill="#111" stroke="#111" stroke-width="0.3" text-anchor="middle">0.92</text>
<polygon points="1834.4,814.8 1848.8,804.8 1894.7,804.8 1894.7,824.8 1848.8,824.8" fill="#e8009c"/>
<text x="1873.7" y="816.4" font-size="10.6" font-weight="bold" fill="#fff" stroke="#fff" stroke-width="0.3" text-anchor="middle">75.51%</text>
<rect x="1894.7" y="36" width="1.3" height="880" fill="#2a2f38"/>
<rect x="1894.7" y="585" width="1.3" height="314" fill="#14171c"/>
<rect x="1893.9" y="181.5" width="0.9" height="49.2" fill="#e01010"/>
<rect x="1893.9" y="246.4" width="0.9" height="4.9" fill="#ff9a10"/>
<rect x="1893.9" y="264.7" width="0.9" height="0.9" fill="#e01010"/>
<rect x="1893.9" y="265.6" width="0.9" height="2.1" fill="#e8009c"/>
<rect x="1893.9" y="272.7" width="0.9" height="3.1" fill="#00b400"/>
<rect x="1893.9" y="625.6" width="0.9" height="6.2" fill="#e8009c"/>
<rect x="0" y="58" width="1894.7" height="20" fill="#ffffff"/>
<rect x="0" y="78" width="1894.7" height="2" fill="#bcbcbc"/>
<rect x="59.0" y="58" width="1" height="19" fill="#8e8e8e"/>
<text x="65.8" y="69.8" font-size="10" font-weight="bold" fill="#333" stroke="#333" stroke-width="0.15">Juil</text>
<rect x="311.0" y="58" width="1" height="19" fill="#8e8e8e"/>
<text x="317.8" y="69.8" font-size="10" font-weight="bold" fill="#333" stroke="#333" stroke-width="0.15">Aoû</text>
<rect x="542.0" y="58" width="1" height="19" fill="#8e8e8e"/>
<text x="548.8" y="69.8" font-size="10" font-weight="bold" fill="#333" stroke="#333" stroke-width="0.15">Sep</text>
<rect x="783.0" y="58" width="1" height="19" fill="#8e8e8e"/>
<text x="789.8" y="69.8" font-size="10" font-weight="bold" fill="#333" stroke="#333" stroke-width="0.15">Oct</text>
<rect x="1035.0" y="58" width="1" height="19" fill="#8e8e8e"/>
<text x="1041.8" y="69.8" font-size="10" font-weight="bold" fill="#333" stroke="#333" stroke-width="0.15">Nov</text>
<rect x="1254.0" y="58" width="1" height="19" fill="#8e8e8e"/>
<text x="1260.8" y="69.8" font-size="10" font-weight="bold" fill="#333" stroke="#333" stroke-width="0.15">Déc</text>
<rect x="1495.0" y="58" width="1" height="19" fill="#8e8e8e"/>
<text x="1501.8" y="69.8" font-size="10" font-weight="bold" fill="#333" stroke="#333" stroke-width="0.15">2015</text>
<rect x="1725.0" y="58" width="1" height="19" fill="#8e8e8e"/>
<text x="1731.8" y="69.8" font-size="10" font-weight="bold" fill="#333" stroke="#333" stroke-width="0.15">Fév</text>
<rect x="0" y="0" width="1896" height="36" fill="url(#gTitle)"/>
<rect x="0" y="0" width="1896" height="1" fill="#565a60"/>
<rect x="0" y="35" width="1896" height="1" fill="#181d25"/>
<rect x="38" y="0" width="0.9" height="35" fill="#191d22"/><rect x="38.9" y="1" width="0.8" height="34" fill="#434952"/>
<rect x="6.9" y="11.0" width="17.2" height="2.1" fill="#82b1d1"/><rect x="6.9" y="13.1" width="17.2" height="1" fill="#1a1e24"/>
<rect x="6.9" y="15.9" width="17.2" height="2.1" fill="#82b1d1"/><rect x="6.9" y="18.0" width="17.2" height="1" fill="#1a1e24"/>
<rect x="6.9" y="20.9" width="17.2" height="2.1" fill="#82b1d1"/><rect x="6.9" y="23.0" width="17.2" height="1" fill="#1a1e24"/>
<text x="43.5" y="22" font-size="13.9" font-weight="bold" fill="#fff" stroke="#fff" stroke-width="0.3" textLength="74.7" lengthAdjust="spacingAndGlyphs">US SPX 500</text>
<path d="M1896 0 L1896 12 A12 12 0 0 0 1884 0 Z" fill="#15181c"/>
<text x="1663.2" y="23.2" font-size="12.6" font-weight="bold" fill="#1fe01f" stroke="#1fe01f" stroke-width="0.2" textLength="34.2" lengthAdjust="spacingAndGlyphs">4.69%</text>
<rect x="1711.2" y="8.4" width="74.6" height="20.2" rx="5" ry="5" fill="#24241f"/>
<text x="1720.2" y="23.2" font-size="11.8" fill="#858585" stroke="#858585" stroke-width="0.25">2,052.85</text>
<rect x="1792.2" y="8.4" width="74.6" height="20.2" rx="5" ry="5" fill="#0f2c3b"/>
<text x="1801.2" y="23.2" font-size="11.8" fill="#858a8d" stroke="#858a8d" stroke-width="0.25">2,053.35</text>
<path d="M1772 11.5 C1777.5 12.5 1779 16 1778.2 19.2 L1780.9 18.6 L1777.2 26.6 L1772.6 20.4 L1775.2 19.8 C1775.8 16.5 1774.8 13.5 1772 11.5 Z" fill="#ff9a10"/>
<path d="M1853.2 23.4 C1857 22.6 1858 19.6 1857.6 17.4 L1855 17.8 L1859.3 11.4 L1862.4 18.6 L1860 18.2 C1860.4 21.4 1858 24 1853.2 23.4 Z" fill="#17c7f5"/>
<path d="M1876.3 14.6 L1884.4 22.8 M1884.4 14.6 L1876.3 22.8" stroke="#a2c6de" stroke-width="2" stroke-linecap="butt" fill="none"/>
<rect x="0" y="36" width="1896" height="22" fill="#2a303a"/>
<rect x="0" y="36" width="1896" height="1" fill="#353c47"/>
<rect x="0" y="57.2" width="1896" height="0.8" fill="#1f252d"/>
<rect x="0.0" y="37" width="13.8" height="20.6" fill="url(#gBtn)"/>
<rect x="0.0" y="37" width="13.8" height="1" fill="#4c5159"/>
<rect x="15.0" y="37" width="84.0" height="20.6" fill="url(#gBtn)"/>
<rect x="15.0" y="37" width="84.0" height="1" fill="#4c5159"/>
<rect x="100.0" y="37" width="88.5" height="20.6" fill="url(#gBtn)"/>
<rect x="100.0" y="37" width="88.5" height="1" fill="#4c5159"/>
<rect x="189.5" y="37" width="19.5" height="20.6" fill="url(#gBtn)"/>
<rect x="189.5" y="37" width="19.5" height="1" fill="#4c5159"/>
<rect x="210.0" y="37" width="88.2" height="20.6" fill="url(#gBtn)"/>
<rect x="210.0" y="37" width="88.2" height="1" fill="#4c5159"/>
<rect x="299.2" y="37" width="19.8" height="20.6" fill="url(#gBtn)"/>
<rect x="299.2" y="37" width="19.8" height="1" fill="#4c5159"/>
<rect x="320.0" y="37" width="21.0" height="20.6" fill="url(#gBtn)"/>
<rect x="320.0" y="37" width="21.0" height="1" fill="#4c5159"/>
<rect x="342.0" y="37" width="21.0" height="20.6" fill="url(#gBtn)"/>
<rect x="342.0" y="37" width="21.0" height="1" fill="#4c5159"/>
<rect x="364.0" y="37" width="21.0" height="20.6" fill="url(#gBtn)"/>
<rect x="364.0" y="37" width="21.0" height="1" fill="#4c5159"/>
<rect x="386.0" y="37" width="21.0" height="20.6" fill="url(#gBtn)"/>
<rect x="386.0" y="37" width="21.0" height="1" fill="#4c5159"/>
<rect x="408.0" y="37" width="21.0" height="20.6" fill="url(#gBtn)"/>
<rect x="408.0" y="37" width="21.0" height="1" fill="#4c5159"/>
<rect x="430.0" y="37" width="21.0" height="20.6" fill="url(#gBtn)"/>
<rect x="430.0" y="37" width="21.0" height="1" fill="#4c5159"/>
<rect x="452.0" y="37" width="21.0" height="20.6" fill="url(#gBtn)"/>
<rect x="452.0" y="37" width="21.0" height="1" fill="#4c5159"/>
<rect x="-1" y="41.5" width="9.2" height="11.6" fill="none" stroke="#fff" stroke-width="1.3"/>
<rect x="1.5" y="43.7" width="5" height="1" fill="#fff"/><rect x="0" y="43.7" width="0.9" height="1" fill="#fff"/>
<rect x="1.5" y="46.2" width="5" height="1" fill="#fff"/><rect x="0" y="46.2" width="0.9" height="1" fill="#fff"/>
<rect x="1.5" y="48.7" width="5" height="1" fill="#fff"/><rect x="0" y="48.7" width="0.9" height="1" fill="#fff"/>
<rect x="1.5" y="51.0" width="5" height="1" fill="#fff"/><rect x="0" y="51.0" width="0.9" height="1" fill="#fff"/>
<text x="17.6" y="50.6" font-size="10" fill="#fff" stroke="#fff" stroke-width="0.2">Options</text>
<circle cx="80.5" cy="47.6" r="3.5" fill="none" stroke="#fff" stroke-width="1.7"/>
<line x1="84.50" y1="47.60" x2="86.20" y2="47.60" stroke="#fff" stroke-width="2.1"/>
<line x1="83.33" y1="50.43" x2="84.53" y2="51.63" stroke="#fff" stroke-width="2.1"/>
<line x1="80.50" y1="51.60" x2="80.50" y2="53.30" stroke="#fff" stroke-width="2.1"/>
<line x1="77.67" y1="50.43" x2="76.47" y2="51.63" stroke="#fff" stroke-width="2.1"/>
<line x1="76.50" y1="47.60" x2="74.80" y2="47.60" stroke="#fff" stroke-width="2.1"/>
<line x1="77.67" y1="44.77" x2="76.47" y2="43.57" stroke="#fff" stroke-width="2.1"/>
<line x1="80.50" y1="43.60" x2="80.50" y2="41.90" stroke="#fff" stroke-width="2.1"/>
<line x1="83.33" y1="44.77" x2="84.53" y2="43.57" stroke="#fff" stroke-width="2.1"/>
<text x="114.4" y="51" font-size="10" fill="#fff" stroke="#fff" stroke-width="0.2">1 jour</text>
<polygon points="174.7,45.8 182.3,45.8 178.5,50.4" fill="#29abe5"/>
<rect x="195.7" y="46.6" width="7.4" height="4.6" fill="#29abe5"/><rect x="195.7" y="51.2" width="7.4" height="0.7" fill="#16191d"/>
<path d="M197.7 46.6 V44.5 A1.95 1.95 0 0 1 201.6 44.5 V45.7" fill="none" stroke="#29abe5" stroke-width="1.2"/>
<text x="224.3" y="51" font-size="10" fill="#fff" stroke="#fff" stroke-width="0.2">8 mois</text>
<polygon points="285,45.8 292.4,45.8 288.7,50.4" fill="#29abe5"/>
<rect x="303.2" y="43" width="11.8" height="10.5" rx="1.6" fill="#fff"/>
<rect x="304.6" y="46.1" width="9" height="6.2" fill="#2f3339"/>
<rect x="305.0" y="46.6" width="2.2" height="2.3" fill="#fff"/>
<rect x="308.0" y="46.6" width="2.2" height="2.3" fill="#fff"/>
<rect x="311.0" y="46.6" width="2.2" height="2.3" fill="#fff"/>
<rect x="305.0" y="49.6" width="2.2" height="2.3" fill="#fff"/>
<rect x="308.0" y="49.6" width="2.2" height="2.3" fill="#fff"/>
<rect x="311.0" y="49.6" width="2.2" height="2.3" fill="#fff"/>
<rect x="305.7" y="41.2" width="1.9" height="3.6" rx="0.9" fill="#fff"/><rect x="306.3" y="41.9" width="0.7" height="2.4" fill="#33373d"/>
<rect x="311.1" y="41.2" width="1.9" height="3.6" rx="0.9" fill="#fff"/><rect x="311.7" y="41.9" width="0.7" height="2.4" fill="#33373d"/>
<text x="332.5" y="49.9" font-size="9.4" font-weight="bold" fill="#fff" stroke="#fff" stroke-width="0.3" text-anchor="middle">D</text>
<text x="354.4" y="49.9" font-size="9.4" font-weight="bold" fill="#fff" stroke="#fff" stroke-width="0.3" text-anchor="middle">1</text>
<text x="376.3" y="49.9" font-size="9.4" font-weight="bold" fill="#fff" stroke="#fff" stroke-width="0.3" text-anchor="middle">2</text>
<text x="398.2" y="49.9" font-size="9.4" font-weight="bold" fill="#fff" stroke="#fff" stroke-width="0.3" text-anchor="middle">3</text>
<text x="420.1" y="49.9" font-size="9.4" font-weight="bold" fill="#fff" stroke="#fff" stroke-width="0.3" text-anchor="middle">4</text>
<path d="M433.6 47.9 h7 v6.4 h-7 z" fill="none" stroke="#fff" stroke-width="1.25"/><rect x="435.5" y="47.9" width="3.8" height="3.1" fill="#fff"/>
<text x="440.7" y="44.9" font-size="6.6" font-weight="bold" fill="#fff">5</text>
<circle cx="462.5" cy="47.6" r="3.5" fill="none" stroke="#fff" stroke-width="1.7"/>
<line x1="466.50" y1="47.60" x2="468.20" y2="47.60" stroke="#fff" stroke-width="2.1"/>
<line x1="465.33" y1="50.43" x2="466.53" y2="51.63" stroke="#fff" stroke-width="2.1"/>
<line x1="462.50" y1="51.60" x2="462.50" y2="53.30" stroke="#fff" stroke-width="2.1"/>
<line x1="459.67" y1="50.43" x2="458.47" y2="51.63" stroke="#fff" stroke-width="2.1"/>
<line x1="458.50" y1="47.60" x2="456.80" y2="47.60" stroke="#fff" stroke-width="2.1"/>
<line x1="459.67" y1="44.77" x2="458.47" y2="43.57" stroke="#fff" stroke-width="2.1"/>
<line x1="462.50" y1="43.60" x2="462.50" y2="41.90" stroke="#fff" stroke-width="2.1"/>
<line x1="465.33" y1="44.77" x2="466.53" y2="43.57" stroke="#fff" stroke-width="2.1"/>
<text x="1237.6" y="49.2" font-size="10" fill="#fff" stroke="#fff" stroke-width="0.2">Outils</text>
<rect x="1266.0" y="37" width="21.0" height="20.6" fill="url(#gBtnBlueD)"/>
<rect x="1266.5" y="37.5" width="20.0" height="19.6" fill="none" stroke="#1796e0" stroke-width="1"/>
<rect x="1288.0" y="37" width="21.0" height="20.6" fill="url(#gBtn)"/>
<rect x="1288.0" y="37" width="21.0" height="1" fill="#4c5159"/>
<rect x="1310.0" y="37" width="21.0" height="20.6" fill="url(#gBtn)"/>
<rect x="1310.0" y="37" width="21.0" height="1" fill="#4c5159"/>
<rect x="1332.0" y="37" width="21.0" height="20.6" fill="url(#gBtnBlueD)"/>
<rect x="1332.5" y="37.5" width="20.0" height="19.6" fill="none" stroke="#1796e0" stroke-width="1"/>
<rect x="1354.0" y="37" width="21.0" height="20.6" fill="url(#gBtn)"/>
<rect x="1354.0" y="37" width="21.0" height="1" fill="#4c5159"/>
<rect x="1376.0" y="37" width="21.0" height="20.6" fill="url(#gBtnBlueM)"/>
<rect x="1376.5" y="37.5" width="20.0" height="19.6" fill="none" stroke="#1796e0" stroke-width="1"/>
<rect x="1398.0" y="37" width="21.0" height="20.6" fill="url(#gBtnBlueL)"/>
<rect x="1398.5" y="37.5" width="20.0" height="19.6" fill="none" stroke="#12a0f5" stroke-width="1"/>
<rect x="1420.0" y="37" width="21.0" height="20.6" fill="url(#gBtn)"/>
<rect x="1420.0" y="37" width="21.0" height="1" fill="#4c5159"/>
<rect x="1442.0" y="37" width="21.0" height="20.6" fill="url(#gBtnBlueL)"/>
<rect x="1442.5" y="37.5" width="20.0" height="19.6" fill="none" stroke="#12a0f5" stroke-width="1"/>
<rect x="1464.0" y="37" width="21.0" height="20.6" fill="url(#gBtn)"/>
<rect x="1464.0" y="37" width="21.0" height="1" fill="#4c5159"/>
<rect x="1486.0" y="37" width="21.0" height="20.6" fill="url(#gBtnBlueL)"/>
<rect x="1486.5" y="37.5" width="20.0" height="19.6" fill="none" stroke="#12a0f5" stroke-width="1"/>
<path d="M1269 53.4 H1283.5 V42" fill="none" stroke="#fff" stroke-width="1.05"/>
<path d="M1271.2 46.1 L1276.3 42.8 L1276.3 45 L1280.1 45 L1280.1 47.3 L1276.3 47.3 L1276.3 49.6 Z" fill="#fff"/>
<text transform="translate(1298.6,52.9) scale(1,1.1)" x="0" y="0" font-size="12.6" font-weight="bold" fill="#fff" text-anchor="middle">%</text>
<text x="1313.9" y="52.4" font-size="16" fill="#f0f0f0" font-family="Liberation Serif, serif">T</text><text x="1323.2" y="52.4" font-size="9.6" fill="#f0f0f0" font-family="Liberation Serif, serif">T</text>
<path d="M1340.4 41 V54 M1344.8 41 V54 M1336 46 H1349 M1336 50 H1349" stroke="#fff" stroke-width="1.15" fill="none"/>
<path d="M1362.7 41 V52 M1367 41 V48.5 M1358 46 H1371 M1358 50 H1365" stroke="#8f9399" stroke-width="1.1" fill="none"/>
<path d="M1363 55.4 L1363.8 53 L1368.6 48.2 L1370.6 50.2 L1365.8 55 Z" fill="#fff"/><circle cx="1370.4" cy="48.6" r="1.9" fill="#fff"/>
<rect x="1384.5" y="44.8" width="4.2" height="5.6" fill="none" stroke="#fff" stroke-width="1.4"/><path d="M1386.6 41 V44.2 M1386.6 51 V53.8" stroke="#fff" stroke-width="1.4"/>
<rect x="1401.8" y="47.9" width="7.4" height="5.2" fill="none" stroke="#fff" stroke-width="1.3"/>
<path d="M1405 45.2 H1412.2 V50 M1408 42.3 H1414.8 V47.4" fill="none" stroke="#fff" stroke-width="1.9"/>
<rect x="1427.4" y="44.4" width="2.3" height="6" fill="none" stroke="#fff" stroke-width="1.1"/><path d="M1428.55 42.9 V44.4 M1428.55 50.6 V54.7" stroke="#fff" stroke-width="1.1"/>
<rect x="1432.6" y="42.3" width="2.3" height="6.2" fill="none" stroke="#fff" stroke-width="1.1"/><path d="M1433.75 41 V42.3 M1433.75 48.7 V52.5" stroke="#fff" stroke-width="1.1"/>
<path d="M1423 48.8 L1437.7 42.5" stroke="#fff" stroke-width="1.0"/>
<path d="M1445.6 47.6 L1449.7 43.8 H1458 V51.5 H1449.7 Z" fill="none" stroke="#fff" stroke-width="1.35"/>
<rect x="1469.9" y="41" width="9.2" height="2.3" fill="#fff"/><rect x="1468" y="44" width="13" height="5.6" rx="0.8" fill="#fff"/><rect x="1469.9" y="49.2" width="9.2" height="3.3" fill="#fff"/><rect x="1469.9" y="48.4" width="9.2" height="0.9" fill="#3a3f47"/>
<polygon points="1497.30,45.55 1497.04,46.87 1495.74,46.61 1495.22,47.37 1495.96,48.48 1494.85,49.22 1494.11,48.12 1493.21,48.30 1492.95,49.60 1491.63,49.34 1491.89,48.04 1491.13,47.52 1490.02,48.26 1489.28,47.15 1490.38,46.41 1490.20,45.51 1488.90,45.25 1489.16,43.93 1490.46,44.19 1490.98,43.43 1490.24,42.32 1491.35,41.58 1492.09,42.68 1492.99,42.50 1493.25,41.20 1494.57,41.46 1494.31,42.76 1495.07,43.28 1496.18,42.54 1496.92,43.65 1495.82,44.39 1496.00,45.29" fill="#fff"/>
<circle cx="1493.1" cy="45.4" r="1.5" fill="#0a86e8"/>
<path d="M1494.8 54.6 L1495.6 52 L1501.4 46.2 L1503.6 48.4 L1497.8 54 Z" fill="#fff"/>
<rect x="1850" y="50.2" width="6" height="4" fill="#8fb6d2"/><rect x="1851.2" y="51.6" width="3.6" height="1.2" fill="#2a303a"/>
<rect x="1860" y="49" width="8.2" height="5.2" fill="#8fb6d2"/><rect x="1861.2" y="50.3" width="5.8" height="1.3" fill="#2a303a"/>
<rect x="1872" y="45.2" width="10" height="9" fill="#8fb6d2"/><rect x="1873.2" y="46.4" width="7.6" height="1.9" fill="#2a303a"/>
<rect x="0" y="898.8" width="1896" height="17.2" fill="url(#gBot)"/>
<rect x="0" y="898.8" width="1896" height="1" fill="#1a1d22"/>
<rect x="604.2" y="903.2" width="15.4" height="16" rx="2.5" fill="url(#gBG)" stroke="#565b63" stroke-width="1"/>
<rect x="624.1" y="903.2" width="15.4" height="16" rx="2.5" fill="url(#gBG)" stroke="#565b63" stroke-width="1"/>
<rect x="644.2" y="903.2" width="15.4" height="16" rx="2.5" fill="url(#gBB)" stroke="#14b0ff" stroke-width="1"/>
<rect x="664.2" y="903.2" width="15.4" height="16" rx="2.5" fill="url(#gBB)" stroke="#14b0ff" stroke-width="1"/>
<path d="M608.4 913.2 A3.9 3.9 0 0 1 613.2 907.6 M615.4 909.6 A3.9 3.9 0 0 1 610.4 915" fill="none" stroke="#fff" stroke-width="2"/><path d="M611.4 905.2 L616.2 906.6 L612.8 910.4 Z M612.2 917.4 L607.6 916 L610.8 912.4 Z" fill="#fff"/>
<circle cx="632.3" cy="911.4" r="4.7" fill="none" stroke="#fff" stroke-width="1.6"/><path d="M629 914.8 L635.6 908" stroke="#fff" stroke-width="1.6"/>
<path d="M646.6 917.4 L647.4 913.8 L654.8 906.4 L657.6 909.2 L650.2 916.6 Z" fill="#fff"/><path d="M648.8 912.6 L651.6 915.4" stroke="#0a86e8" stroke-width="0.7"/>
<polygon points="670.5,905.2 674.2,909.8 666.9,909.8" fill="#fff"/><polygon points="669.8,912.5 677,912.5 673.4,917" fill="#fff"/>
<rect x="687" y="901.3" width="478.8" height="15" fill="url(#gTab)"/>
<rect x="687" y="901.3" width="479" height="1" fill="#6a7079"/>
<rect x="687.0" y="901.3" width="1" height="15" fill="#363b43"/>
<rect x="767.7" y="901.3" width="1" height="15" fill="#363b43"/>
<rect x="891.6" y="901.3" width="1" height="15" fill="#363b43"/>
<rect x="976.6" y="901.3" width="1" height="15" fill="#363b43"/>
<rect x="1086.9" y="901.3" width="1" height="15" fill="#363b43"/>
<rect x="1165.0" y="901.3" width="1" height="15" fill="#363b43"/>
<text x="701.4" y="913.7" font-size="11" font-weight="bold" fill="#8f959d" stroke="#8f959d" stroke-width="0.2">Calendrier</text>
<text x="781.6" y="913.7" font-size="11" font-weight="bold" fill="#8f959d" stroke="#8f959d" stroke-width="0.2">Type de Graphique</text>
<text x="905.6" y="913.7" font-size="11" font-weight="bold" fill="#8f959d" stroke="#8f959d" stroke-width="0.2">Indicateurs</text>
<text x="989.6" y="913.7" font-size="11" font-weight="bold" fill="#8f959d" stroke="#8f959d" stroke-width="0.2">Outils de dessin</text>
<text x="1107.0" y="913.7" font-size="11" font-weight="bold" fill="#8f959d" stroke="#8f959d" stroke-width="0.2">Figures</text>
<rect x="1173.2" y="903.2" width="15.4" height="16" rx="2.5" fill="url(#gBG)" stroke="#565b63" stroke-width="1"/>
<rect x="1193.2" y="903.2" width="15.4" height="16" rx="2.5" fill="url(#gBG)" stroke="#565b63" stroke-width="1"/>
<rect x="1213.4" y="903.2" width="15.4" height="16" rx="2.5" fill="url(#gBG)" stroke="#565b63" stroke-width="1"/>
<rect x="1233.2" y="903.2" width="15.4" height="16" rx="2.5" fill="url(#gBB)" stroke="#14b0ff" stroke-width="1"/>
<rect x="1253.2" y="903.2" width="15.4" height="16" rx="2.5" fill="url(#gBB)" stroke="#14b0ff" stroke-width="1"/>
<circle cx="1179.6" cy="909.6" r="3" fill="none" stroke="#fff" stroke-width="1.5"/><path d="M1181.8 911.8 L1185.6 915.4" stroke="#fff" stroke-width="1.8"/>
<rect x="1197.2" y="910.4" width="7.6" height="2" fill="#fff"/>
<rect x="1217.2" y="910.4" width="8" height="2" fill="#fff"/><rect x="1220.2" y="907.4" width="2" height="8" fill="#fff"/>
<path d="M1241.4 904.7 V908.5 M1241.4 914.3 V918 M1235 911.5 H1238.8 M1244 911.5 H1247.8 M1240.8 911.5 H1242" stroke="#fff" stroke-width="1.2"/>
<text x="1261.1" y="912" font-size="6" font-weight="bold" fill="#fff" text-anchor="middle" letter-spacing="-0.3">1234</text><rect x="1253.6" y="912.9" width="14.8" height="1" fill="#fff"/>
</svg>
</body></html>
